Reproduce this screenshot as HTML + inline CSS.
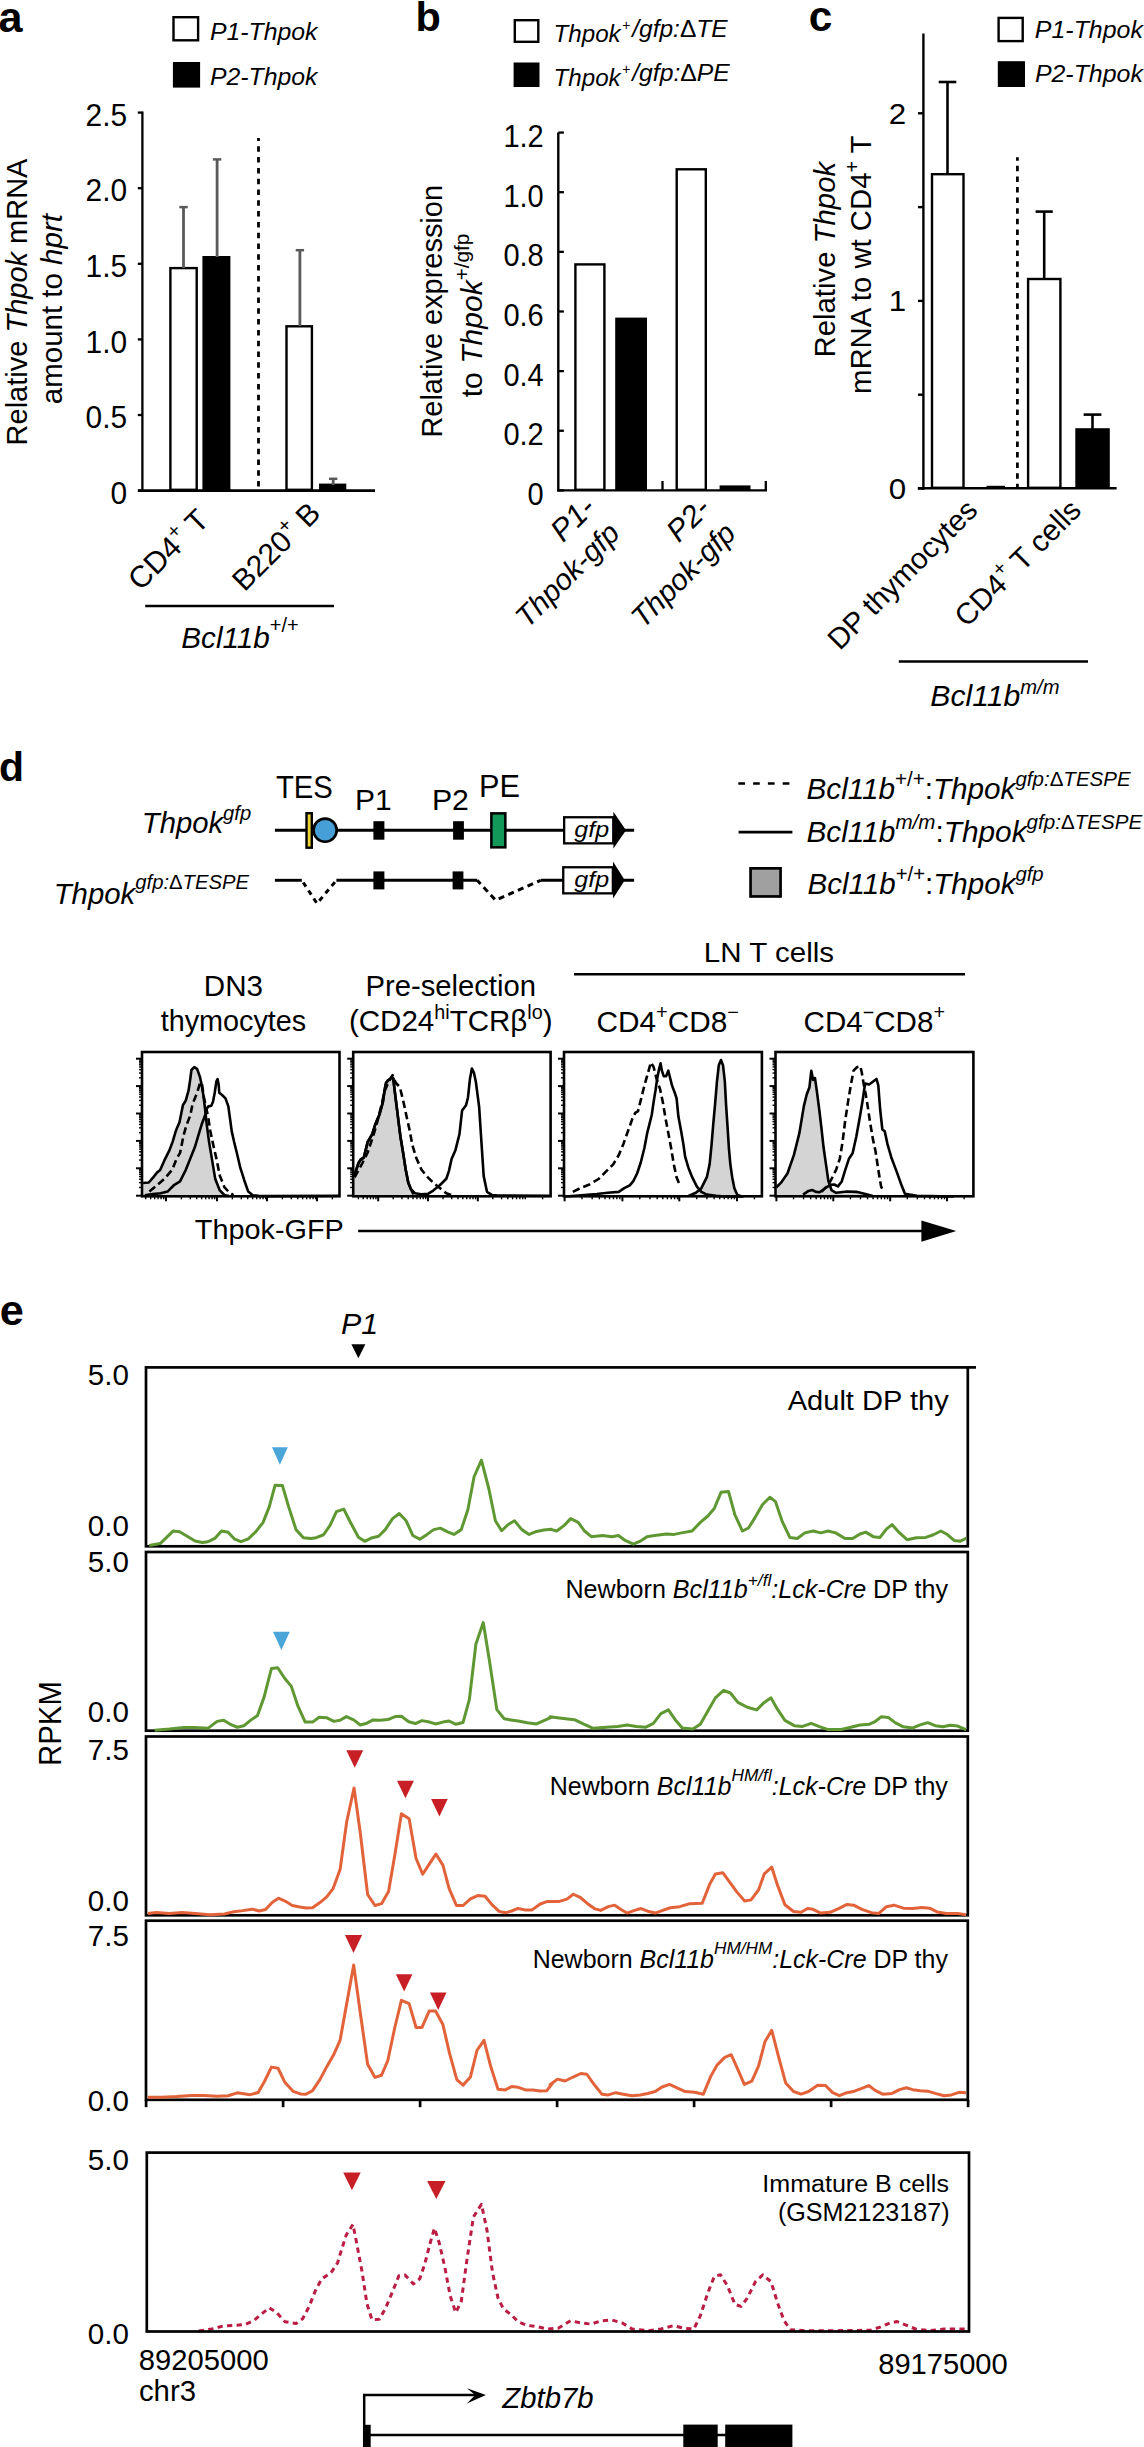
<!DOCTYPE html>
<html><head><meta charset="utf-8"><style>
html,body{margin:0;padding:0;background:#fff;}
svg{display:block;}
text{font-family:"Liberation Sans", sans-serif;}
</style></head><body>
<svg width="1144" height="2447" viewBox="0 0 1144 2447">
<rect width="1144" height="2447" fill="#fff"/>
<text id="a_lbl" x="0" y="0" transform="translate(-1.47 31.64)" font-size="43.16" font-weight="bold">a</text>
<rect x="173.5" y="17.2" width="24.6" height="23.1" fill="#fff" stroke="#000" stroke-width="2.4"/>
<rect x="172.9" y="62" width="27.2" height="25.6" fill="#000"/>
<text id="a_leg1" x="0" y="0" transform="translate(210.02 39.74) scale(1.0034 1)" font-size="24.71" font-style="italic">P1-Thpok</text>
<text id="a_leg2" x="0" y="0" transform="translate(210.02 84.52) scale(1.0034 1)" font-size="24.71" font-style="italic">P2-Thpok</text>
<line x1="142.4" y1="111.4" x2="142.4" y2="491.8" stroke="#000" stroke-width="2.3"/>
<line x1="137.8" y1="112.6" x2="142.4" y2="112.6" stroke="#000" stroke-width="2.3"/>
<text id="a_tk2.5" x="0" y="0" transform="translate(127.16 125.78) scale(0.9639 1)" font-size="31.02" text-anchor="end">2.5</text>
<line x1="137.8" y1="188.2" x2="142.4" y2="188.2" stroke="#000" stroke-width="2.3"/>
<text id="a_tk2.0" x="0" y="0" transform="translate(127.16 201.38) scale(0.9639 1)" font-size="31.02" text-anchor="end">2.0</text>
<line x1="137.8" y1="263.8" x2="142.4" y2="263.8" stroke="#000" stroke-width="2.3"/>
<text id="a_tk1.5" x="0" y="0" transform="translate(127.16 276.98) scale(0.9639 1)" font-size="31.02" text-anchor="end">1.5</text>
<line x1="137.8" y1="339.4" x2="142.4" y2="339.4" stroke="#000" stroke-width="2.3"/>
<text id="a_tk1.0" x="0" y="0" transform="translate(127.16 352.58) scale(0.9639 1)" font-size="31.02" text-anchor="end">1.0</text>
<line x1="137.8" y1="415" x2="142.4" y2="415" stroke="#000" stroke-width="2.3"/>
<text id="a_tk0.5" x="0" y="0" transform="translate(127.16 428.18) scale(0.9639 1)" font-size="31.02" text-anchor="end">0.5</text>
<line x1="137.8" y1="490.6" x2="142.4" y2="490.6" stroke="#000" stroke-width="2.3"/>
<text id="a_tk0" x="0" y="0" transform="translate(127.16 503.78) scale(0.9639 1)" font-size="31.02" text-anchor="end">0</text>
<line x1="138" y1="490.6" x2="375" y2="490.6" stroke="#000" stroke-width="2.9"/>
<rect x="170.4" y="268.1" width="26.3" height="221.7" fill="#fff" stroke="#000" stroke-width="2.4"/>
<rect x="202.4" y="256" width="28" height="235" fill="#000"/>
<rect x="286.5" y="326.3" width="25.4" height="163.5" fill="#fff" stroke="#000" stroke-width="2.4"/>
<rect x="319" y="483.6" width="27.3" height="7.4" fill="#000"/>
<line x1="183.5" y1="207.1" x2="183.5" y2="268" stroke="#5a5a5a" stroke-width="2.8"/>
<line x1="179.3" y1="207.1" x2="187.7" y2="207.1" stroke="#5a5a5a" stroke-width="2.5"/>
<line x1="217.1" y1="159.4" x2="217.1" y2="257" stroke="#5a5a5a" stroke-width="2.8"/>
<line x1="212.9" y1="159.4" x2="221.3" y2="159.4" stroke="#5a5a5a" stroke-width="2.5"/>
<line x1="299.9" y1="250.2" x2="299.9" y2="326" stroke="#5a5a5a" stroke-width="2.8"/>
<line x1="295.7" y1="250.2" x2="304.1" y2="250.2" stroke="#5a5a5a" stroke-width="2.5"/>
<line x1="333.2" y1="478.8" x2="333.2" y2="485" stroke="#5a5a5a" stroke-width="2.8"/>
<line x1="329" y1="478.8" x2="337.4" y2="478.8" stroke="#5a5a5a" stroke-width="2.5"/>
<line x1="258.5" y1="138.1" x2="258.5" y2="490" stroke="#000" stroke-width="2.8" stroke-dasharray="5.5 5.3" stroke-dashoffset="2.6"/>
<text id="a_yt1" x="0" y="0" transform="translate(26.77 301.97) rotate(-90)" font-size="29" text-anchor="middle">Relative <tspan font-style="italic">Thpok</tspan> mRNA</text>
<text id="a_yt2" x="0" y="0" transform="translate(61.88 309.15) rotate(-90)" font-size="29.51" text-anchor="middle">amount to <tspan font-style="italic">hprt</tspan></text>
<text id="a_cat1" x="0" y="0" transform="translate(210.55 521.88) rotate(-45)" font-size="30.33" text-anchor="end">CD4<tspan dy="-12.74" font-size="20.32">+</tspan><tspan dy="12.74"> T</tspan></text>
<text id="a_cat2" x="0" y="0" transform="translate(322.18 514.86) rotate(-45)" font-size="29.95" text-anchor="end">B220<tspan dy="-12.58" font-size="20.07">+</tspan><tspan dy="12.58"> B</tspan></text>
<line x1="145.2" y1="606" x2="334" y2="606" stroke="#000" stroke-width="2.5"/>
<text id="a_bcl" x="0" y="0" transform="translate(181.26 647.55)" font-size="29.68"><tspan font-style="italic">Bcl11b</tspan><tspan dy="-15.44" font-size="19.89">+/+</tspan></text>
<text id="b_lbl" x="0" y="0" transform="translate(415.59 31)" font-size="41.47" font-weight="bold">b</text>
<rect x="514.8" y="20.2" width="23.5" height="21.6" fill="#fff" stroke="#000" stroke-width="2.4"/>
<rect x="513.6" y="62.5" width="25.9" height="24.5" fill="#000"/>
<text id="b_leg1a" x="0" y="0" transform="translate(553.51 42.39) scale(0.9791 1)" font-size="24.7" font-style="italic">Thpok</text>
<text id="b_leg1b" x="0" y="0" transform="translate(621.95 30.37) scale(0.9089 1)" font-size="15.43" font-style="italic">+</text>
<text id="b_leg1c" x="0" y="0" transform="translate(632.24 37.43) scale(1.0653 1)" font-size="23.01" font-style="italic">/gfp:<tspan font-style="normal">Δ</tspan>TE</text>
<text id="b_leg2a" x="0" y="0" transform="translate(553.51 86.28) scale(0.9791 1)" font-size="24.7" font-style="italic">Thpok</text>
<text id="b_leg2b" x="0" y="0" transform="translate(621.95 74.37) scale(0.9089 1)" font-size="15.43" font-style="italic">+</text>
<text id="b_leg2c" x="0" y="0" transform="translate(632.23 81.34) scale(1.0725 1)" font-size="23.02" font-style="italic">/gfp:<tspan font-style="normal">Δ</tspan>PE</text>
<line x1="558.3" y1="132.4" x2="558.3" y2="491.6" stroke="#000" stroke-width="2.4"/>
<line x1="558.3" y1="132.56" x2="563.9" y2="132.56" stroke="#000" stroke-width="2.3"/>
<text id="b_tk1.2" x="0" y="0" transform="translate(543.72 147.16) scale(0.9356 1)" font-size="31.02" text-anchor="end">1.2</text>
<line x1="558.3" y1="192.2" x2="563.9" y2="192.2" stroke="#000" stroke-width="2.3"/>
<text id="b_tk1.0" x="0" y="0" transform="translate(543.72 206.8) scale(0.9356 1)" font-size="31.02" text-anchor="end">1.0</text>
<line x1="558.3" y1="251.84" x2="563.9" y2="251.84" stroke="#000" stroke-width="2.3"/>
<text id="b_tk0.8" x="0" y="0" transform="translate(543.72 266.44) scale(0.9356 1)" font-size="31.02" text-anchor="end">0.8</text>
<line x1="558.3" y1="311.48" x2="563.9" y2="311.48" stroke="#000" stroke-width="2.3"/>
<text id="b_tk0.6" x="0" y="0" transform="translate(543.72 326.08) scale(0.9356 1)" font-size="31.02" text-anchor="end">0.6</text>
<line x1="558.3" y1="371.12" x2="563.9" y2="371.12" stroke="#000" stroke-width="2.3"/>
<text id="b_tk0.4" x="0" y="0" transform="translate(543.72 385.72) scale(0.9356 1)" font-size="31.02" text-anchor="end">0.4</text>
<line x1="558.3" y1="430.76" x2="563.9" y2="430.76" stroke="#000" stroke-width="2.3"/>
<text id="b_tk0.2" x="0" y="0" transform="translate(543.72 445.36) scale(0.9356 1)" font-size="31.02" text-anchor="end">0.2</text>
<line x1="558.3" y1="490.4" x2="563.9" y2="490.4" stroke="#000" stroke-width="2.3"/>
<text id="b_tk0" x="0" y="0" transform="translate(543.72 505) scale(0.9356 1)" font-size="31.02" text-anchor="end">0</text>
<line x1="557.2" y1="490.4" x2="767" y2="490.4" stroke="#000" stroke-width="2.4"/>
<line x1="662.5" y1="481" x2="662.5" y2="490.4" stroke="#000" stroke-width="2.3"/>
<line x1="765.8" y1="481" x2="765.8" y2="490.4" stroke="#000" stroke-width="2.3"/>
<rect x="575.4" y="264.4" width="29" height="225.4" fill="#fff" stroke="#000" stroke-width="2.4"/>
<rect x="615.2" y="317.6" width="31.8" height="173.4" fill="#000"/>
<rect x="676.7" y="169.3" width="29.1" height="320.5" fill="#fff" stroke="#000" stroke-width="2.4"/>
<rect x="719.6" y="485.4" width="30.9" height="5.6" fill="#000"/>
<text id="b_yt1" x="0" y="0" transform="translate(441.77 311.28) rotate(-90)" font-size="28.95" text-anchor="middle">Relative expression</text>
<text id="b_yt2" x="0" y="0" transform="translate(482.36 315.45) rotate(-90)" font-size="30.06" text-anchor="middle">to <tspan font-style="italic">Thpok</tspan><tspan dy="-13.23" font-size="20.74">+/gfp</tspan></text>
<text id="b_cat1" x="0" y="0" transform="translate(596.89 509.42) rotate(-45)" font-size="30.85" text-anchor="end" font-style="italic">P1-</text>
<text id="b_cat2" x="0" y="0" transform="translate(621.41 534.99) rotate(-45)" font-size="29.51" text-anchor="end" font-style="italic">Thpok-gfp</text>
<text id="b_cat3" x="0" y="0" transform="translate(712 510.09) rotate(-45)" font-size="30.31" text-anchor="end" font-style="italic">P2-</text>
<text id="b_cat4" x="0" y="0" transform="translate(737.46 535.03) rotate(-45)" font-size="29.58" text-anchor="end" font-style="italic">Thpok-gfp</text>
<text id="c_lbl" x="0" y="0" transform="translate(808.67 31.47)" font-size="42.35" font-weight="bold">c</text>
<rect x="998.6" y="17.9" width="24.1" height="23.2" fill="#fff" stroke="#000" stroke-width="2.4"/>
<rect x="997.8" y="61.2" width="27.2" height="25.8" fill="#000"/>
<text id="c_leg1" x="0" y="0" transform="translate(1034.87 37.51) scale(1.0553 1)" font-size="23.62" font-style="italic">P1-Thpok</text>
<text id="c_leg2" x="0" y="0" transform="translate(1034.89 81.77) scale(1.0726 1)" font-size="23.24" font-style="italic">P2-Thpok</text>
<line x1="923.4" y1="33.5" x2="923.4" y2="489.7" stroke="#000" stroke-width="2.4"/>
<line x1="918" y1="113.3" x2="923.4" y2="113.3" stroke="#000" stroke-width="2.4"/>
<text id="c_tk2" x="0" y="0" transform="translate(906.17 123.61) scale(1.0404 1)" font-size="30.11" text-anchor="end">2</text>
<line x1="918" y1="207.1" x2="923.4" y2="207.1" stroke="#000" stroke-width="2.4"/>
<line x1="918" y1="300.9" x2="923.4" y2="300.9" stroke="#000" stroke-width="2.4"/>
<text id="c_tk1" x="0" y="0" transform="translate(906.17 311.21) scale(1.0404 1)" font-size="30.11" text-anchor="end">1</text>
<line x1="918" y1="394.7" x2="923.4" y2="394.7" stroke="#000" stroke-width="2.4"/>
<line x1="918" y1="488.5" x2="923.4" y2="488.5" stroke="#000" stroke-width="2.4"/>
<text id="c_tk0" x="0" y="0" transform="translate(906.17 498.81) scale(1.0404 1)" font-size="30.11" text-anchor="end">0</text>
<line x1="917.8" y1="488.2" x2="1116.6" y2="488.2" stroke="#000" stroke-width="2.4"/>
<rect x="932" y="174.2" width="31.5" height="313.6" fill="#fff" stroke="#000" stroke-width="2.4"/>
<rect x="986.5" y="485.8" width="18.5" height="3.2" fill="#000"/>
<rect x="1028.1" y="279" width="32.3" height="208.8" fill="#fff" stroke="#000" stroke-width="2.4"/>
<rect x="1075.3" y="428.2" width="34.5" height="60.8" fill="#000"/>
<line x1="947.5" y1="82" x2="947.5" y2="174" stroke="#000" stroke-width="2.6"/>
<line x1="938.7" y1="82" x2="956.3" y2="82" stroke="#000" stroke-width="2.6"/>
<line x1="1044.2" y1="211.6" x2="1044.2" y2="279" stroke="#000" stroke-width="2.6"/>
<line x1="1035.6" y1="211.6" x2="1052.8" y2="211.6" stroke="#000" stroke-width="2.6"/>
<line x1="1092.5" y1="414.6" x2="1092.5" y2="429" stroke="#000" stroke-width="2.6"/>
<line x1="1083.6" y1="414.6" x2="1101.4" y2="414.6" stroke="#000" stroke-width="2.6"/>
<line x1="1017.4" y1="157.2" x2="1017.4" y2="488" stroke="#000" stroke-width="2.75" stroke-dasharray="5.5 5.1" stroke-dashoffset="2"/>
<text id="c_yt1" x="0" y="0" transform="translate(835.36 259.69) rotate(-90)" font-size="29.33" text-anchor="middle">Relative <tspan font-style="italic">Thpok</tspan></text>
<text id="c_yt2" x="0" y="0" transform="translate(870.93 264.78) rotate(-90)" font-size="29.31" text-anchor="middle">mRNA to wt CD4<tspan dy="-12.31" font-size="19.64">+</tspan><tspan dy="12.31"> T</tspan></text>
<text id="c_cat1" x="0" y="0" transform="translate(979.18 511.96) rotate(-45)" font-size="29.4" text-anchor="end">DP thymocytes</text>
<text id="c_cat2" x="0" y="0" transform="translate(1082.88 512.08) rotate(-45)" font-size="29.76" text-anchor="end">CD4<tspan dy="-12.5" font-size="19.94">+</tspan><tspan dy="12.5"> T cells</tspan></text>
<line x1="898.8" y1="661.4" x2="1088" y2="661.4" stroke="#000" stroke-width="2.5"/>
<text id="c_bcl" x="0" y="0" transform="translate(930.29 706.23)" font-size="30.17" font-style="italic">Bcl11b<tspan dy="-12.67" font-size="20.21">m/m</tspan></text>
<text id="d_lbl" x="0" y="0" transform="translate(-0.99 780.99)" font-size="40.94" font-weight="bold">d</text>
<text id="d_TES" x="0" y="0" transform="translate(275.88 797.57) scale(0.9423 1)" font-size="31.06">TES</text>
<text id="d_P1" x="0" y="0" transform="translate(355.09 809.95)" font-size="29.98">P1</text>
<text id="d_P2" x="0" y="0" transform="translate(431.89 809.95) scale(1.0099 1)" font-size="29.98">P2</text>
<text id="d_PE" x="0" y="0" transform="translate(478.97 796.76) scale(1.0012 1)" font-size="30.69">PE</text>
<text id="d_thg" x="0" y="0" transform="translate(141.84 832.71)" font-size="29.24" font-style="italic">Thpok<tspan dy="-13.16" font-size="20.18">gfp</tspan></text>
<text id="d_thd" x="0" y="0" transform="translate(53.65 903.92)" font-size="29.37" font-style="italic">Thpok<tspan dy="-14.69" font-size="20.27">gfp:</tspan><tspan font-size="20.27" font-style="normal">Δ</tspan><tspan font-size="20.27">TESPE</tspan></text>
<line x1="274.9" y1="830.2" x2="634.1" y2="830.2" stroke="#000" stroke-width="2.9"/>
<rect x="306.5" y="813.2" width="5.3" height="34.5" fill="#efd334" stroke="#000" stroke-width="2.4"/>
<circle cx="325.1" cy="830.2" r="11.6" fill="#469fd6" stroke="#000" stroke-width="2.6"/>
<rect x="373.4" y="821.2" width="11" height="18.5" fill="#000"/>
<rect x="453.1" y="821.2" width="10.8" height="18.5" fill="#000"/>
<rect x="491.35" y="813.35" width="14" height="34" fill="#12995a" stroke="#000" stroke-width="2.5"/>
<rect x="564.15" y="817.25" width="49.1" height="26.1" fill="#fff" stroke="#000" stroke-width="2.3"/>
<path d="M613.4 811.7 L626 830.2 L613.4 848.5 Z" fill="#000"/>
<text id="d_gfp830" x="0" y="0" transform="translate(591.65 836.69) scale(1.1232 1)" font-size="22.32" text-anchor="middle" font-style="italic">gfp</text>
<line x1="274.9" y1="880.3" x2="301.8" y2="880.3" stroke="#000" stroke-width="2.9"/>
<path d="M301.8 880.3 L317 903.5 L336.4 880.3" fill="none" stroke="#000" stroke-width="3" stroke-dasharray="5 4.6" stroke-dashoffset="7"/>
<line x1="336.4" y1="880.3" x2="477.2" y2="880.3" stroke="#000" stroke-width="2.9"/>
<rect x="373.4" y="871.4" width="11" height="18" fill="#000"/>
<rect x="452.6" y="871.4" width="10.8" height="18" fill="#000"/>
<path d="M477.2 880.3 L495.6 900.2 L540.7 880.3" fill="none" stroke="#000" stroke-width="3" stroke-dasharray="6 4.5" stroke-dashoffset="1"/>
<line x1="540.7" y1="880.3" x2="634.1" y2="880.3" stroke="#000" stroke-width="2.9"/>
<rect x="563.25" y="867.25" width="49.6" height="26.1" fill="#fff" stroke="#000" stroke-width="2.3"/>
<path d="M613 861.5 L624.8 880.3 L613 898.6 Z" fill="#000"/>
<text id="d_gfp880" x="0" y="0" transform="translate(591.65 886.61) scale(1.1232 1)" font-size="22.32" text-anchor="middle" font-style="italic">gfp</text>
<line x1="738.3" y1="783.5" x2="790" y2="783.5" stroke="#000" stroke-width="2.7" stroke-dasharray="6.7 8.1"/>
<line x1="738.6" y1="832.1" x2="792.4" y2="832.1" stroke="#000" stroke-width="2.9"/>
<rect x="750.55" y="868.35" width="30" height="28.1" fill="#a0a0a0" stroke="#000" stroke-width="2.7"/>
<text id="d_leg1" x="0" y="0" transform="translate(806.48 799.21)" font-size="29.7"><tspan font-style="italic">Bcl11b</tspan><tspan dy="-13.37" font-size="20.5">+/+</tspan><tspan dy="13.37">:</tspan><tspan font-style="italic">Thpok</tspan><tspan dy="-13.37" font-size="20.5" font-style="italic">gfp:</tspan><tspan font-size="20.5">Δ</tspan><tspan font-size="20.5" font-style="italic">TESPE</tspan></text>
<text id="d_leg2" x="0" y="0" transform="translate(806.43 842.2)" font-size="29.82"><tspan font-style="italic">Bcl11b</tspan><tspan dy="-13.42" font-size="20.58" font-style="italic">m/m</tspan><tspan dy="13.42">:</tspan><tspan font-style="italic">Thpok</tspan><tspan dy="-13.42" font-size="20.58" font-style="italic">gfp:</tspan><tspan font-size="20.58">Δ</tspan><tspan font-size="20.58" font-style="italic">TESPE</tspan></text>
<text id="d_leg3" x="0" y="0" transform="translate(807.55 894.06)" font-size="29.54"><tspan font-style="italic">Bcl11b</tspan><tspan dy="-13.29" font-size="20.38">+/+</tspan><tspan dy="13.29">:</tspan><tspan font-style="italic">Thpok</tspan><tspan dy="-13.29" font-size="20.38" font-style="italic">gfp</tspan></text>
<text id="d_h1a" x="0" y="0" transform="translate(233.37 996.43) scale(0.9918 1)" font-size="29.82" text-anchor="middle">DN3</text>
<text id="d_h1b" x="0" y="0" transform="translate(233.45 1030.91)" font-size="28.8" text-anchor="middle">thymocytes</text>
<text id="d_h2a" x="0" y="0" transform="translate(450.71 995.61)" font-size="29.22" text-anchor="middle">Pre-selection</text>
<text id="d_h2b" x="0" y="0" transform="translate(450.73 1031.26)" font-size="29.53" text-anchor="middle">(CD24<tspan dy="-12.4" font-size="19.78">hi</tspan><tspan dy="12.4">TCRβ</tspan><tspan dy="-12.4" font-size="19.78">lo</tspan><tspan dy="12.4">)</tspan></text>
<line x1="574" y1="974.2" x2="965" y2="974.2" stroke="#000" stroke-width="2.4"/>
<text id="d_ln" x="0" y="0" transform="translate(703.82 962.11) scale(1.0665 1)" font-size="27.71">LN T cells</text>
<text id="d_h3" x="0" y="0" transform="translate(596.54 1031.64)" font-size="29.76">CD4<tspan dy="-12.5" font-size="19.94">+</tspan><tspan dy="12.5">CD8</tspan><tspan dy="-12.5" font-size="19.94">−</tspan></text>
<text id="d_h4" x="0" y="0" transform="translate(803.6 1031.63)" font-size="29.55">CD4<tspan dy="-12.41" font-size="19.8">−</tspan><tspan dy="12.41">CD8</tspan><tspan dy="-12.41" font-size="19.8">+</tspan></text>
<path d="M143.11 1196.3 L143.11 1183.07 L148.8 1182.5 L152.77 1177.95 L156.75 1172.84 L160.16 1170 L164.14 1160.91 L169.25 1150.68 L172.66 1141.59 L176.07 1130.23 L179.48 1122.27 L181.75 1110.91 L182.89 1105.23 L185.73 1100.68 L188.57 1090.45 L190.27 1079.09 L191.41 1070 L194.25 1067.16 L197.09 1068.86 L199.93 1076.82 L201.64 1084.77 L203.34 1095 L205.05 1108.64 L206.75 1124.55 L209.02 1141.59 L211.86 1158.64 L215.27 1179.09 L219.82 1190.45 L224.36 1195 L228.91 1195.91 L228.91 1196.3 Z" fill="#d4d4d4"/>
<path d="M143.11 1183.07 L148.8 1182.5 L152.77 1177.95 L156.75 1172.84 L160.16 1170 L164.14 1160.91 L169.25 1150.68 L172.66 1141.59 L176.07 1130.23 L179.48 1122.27 L181.75 1110.91 L182.89 1105.23 L185.73 1100.68 L188.57 1090.45 L190.27 1079.09 L191.41 1070 L194.25 1067.16 L197.09 1068.86 L199.93 1076.82 L201.64 1084.77 L203.34 1095 L205.05 1108.64 L206.75 1124.55 L209.02 1141.59 L211.86 1158.64 L215.27 1179.09 L219.82 1190.45 L224.36 1195 L228.91 1195.91" fill="none" stroke="#000" stroke-width="2.6" stroke-linejoin="round"/>
<path d="M144.82 1195.23 L152.77 1194.09 L160.73 1193.3 L167.55 1191.59 L174.36 1184.77 L180.05 1181.36 L185.73 1170 L190.27 1158.64 L194.82 1147.27 L198.23 1135.91 L201.64 1124.55 L205.05 1115.45 L206.75 1108.64 L208.45 1106.36 L211.3 1105.8 L213 1101.82 L214.7 1092.73 L216.41 1081.36 L217.55 1079.09 L218.68 1084.77 L219.25 1092.73 L222.09 1095 L225.5 1098.41 L228.34 1106.36 L230.05 1118.86 L231.75 1131.36 L234.02 1141.59 L236.86 1152.95 L240.27 1167.73 L244.25 1180.23 L248.23 1191.59 L252.77 1195.23 L258.45 1195.91 L268 1196.14 L339 1195.8" fill="none" stroke="#000" stroke-width="2.6" stroke-linejoin="round"/>
<path d="M149.36 1191.59 L156.18 1185.91 L164.14 1179.09 L172.09 1170 L176.64 1158.64 L180.05 1152.95 L183.45 1135.91 L186.3 1125.68 L190.27 1115.45 L192.55 1104.09 L197.09 1092.73 L199.93 1083.64 L201.64 1082.5 L203.91 1097.27 L206.18 1107.5 L208.45 1118.86 L210.16 1130.23 L213 1143.86 L216.41 1158.64 L219.82 1175.68 L224.36 1187.05 L228.91 1192.16 L233.45 1195" fill="none" stroke="#000" stroke-width="2.6" stroke-linejoin="round" stroke-dasharray="7.5 4"/>
<line x1="136" y1="1195.7" x2="142" y2="1195.7" stroke="#000" stroke-width="2"/>
<line x1="139" y1="1187.45" x2="142" y2="1187.45" stroke="#000" stroke-width="1.4"/>
<line x1="139" y1="1182.63" x2="142" y2="1182.63" stroke="#000" stroke-width="1.4"/>
<line x1="139" y1="1179.21" x2="142" y2="1179.21" stroke="#000" stroke-width="1.4"/>
<line x1="139" y1="1176.55" x2="142" y2="1176.55" stroke="#000" stroke-width="1.4"/>
<line x1="139" y1="1174.38" x2="142" y2="1174.38" stroke="#000" stroke-width="1.4"/>
<line x1="139" y1="1172.55" x2="142" y2="1172.55" stroke="#000" stroke-width="1.4"/>
<line x1="139" y1="1170.96" x2="142" y2="1170.96" stroke="#000" stroke-width="1.4"/>
<line x1="139" y1="1169.56" x2="142" y2="1169.56" stroke="#000" stroke-width="1.4"/>
<line x1="136" y1="1168.3" x2="142" y2="1168.3" stroke="#000" stroke-width="2"/>
<line x1="139" y1="1160.05" x2="142" y2="1160.05" stroke="#000" stroke-width="1.4"/>
<line x1="139" y1="1155.23" x2="142" y2="1155.23" stroke="#000" stroke-width="1.4"/>
<line x1="139" y1="1151.81" x2="142" y2="1151.81" stroke="#000" stroke-width="1.4"/>
<line x1="139" y1="1149.15" x2="142" y2="1149.15" stroke="#000" stroke-width="1.4"/>
<line x1="139" y1="1146.98" x2="142" y2="1146.98" stroke="#000" stroke-width="1.4"/>
<line x1="139" y1="1145.15" x2="142" y2="1145.15" stroke="#000" stroke-width="1.4"/>
<line x1="139" y1="1143.56" x2="142" y2="1143.56" stroke="#000" stroke-width="1.4"/>
<line x1="139" y1="1142.16" x2="142" y2="1142.16" stroke="#000" stroke-width="1.4"/>
<line x1="136" y1="1140.9" x2="142" y2="1140.9" stroke="#000" stroke-width="2"/>
<line x1="139" y1="1132.65" x2="142" y2="1132.65" stroke="#000" stroke-width="1.4"/>
<line x1="139" y1="1127.83" x2="142" y2="1127.83" stroke="#000" stroke-width="1.4"/>
<line x1="139" y1="1124.41" x2="142" y2="1124.41" stroke="#000" stroke-width="1.4"/>
<line x1="139" y1="1121.75" x2="142" y2="1121.75" stroke="#000" stroke-width="1.4"/>
<line x1="139" y1="1119.58" x2="142" y2="1119.58" stroke="#000" stroke-width="1.4"/>
<line x1="139" y1="1117.75" x2="142" y2="1117.75" stroke="#000" stroke-width="1.4"/>
<line x1="139" y1="1116.16" x2="142" y2="1116.16" stroke="#000" stroke-width="1.4"/>
<line x1="139" y1="1114.76" x2="142" y2="1114.76" stroke="#000" stroke-width="1.4"/>
<line x1="136" y1="1113.5" x2="142" y2="1113.5" stroke="#000" stroke-width="2"/>
<line x1="139" y1="1105.25" x2="142" y2="1105.25" stroke="#000" stroke-width="1.4"/>
<line x1="139" y1="1100.43" x2="142" y2="1100.43" stroke="#000" stroke-width="1.4"/>
<line x1="139" y1="1097.01" x2="142" y2="1097.01" stroke="#000" stroke-width="1.4"/>
<line x1="139" y1="1094.35" x2="142" y2="1094.35" stroke="#000" stroke-width="1.4"/>
<line x1="139" y1="1092.18" x2="142" y2="1092.18" stroke="#000" stroke-width="1.4"/>
<line x1="139" y1="1090.35" x2="142" y2="1090.35" stroke="#000" stroke-width="1.4"/>
<line x1="139" y1="1088.76" x2="142" y2="1088.76" stroke="#000" stroke-width="1.4"/>
<line x1="139" y1="1087.36" x2="142" y2="1087.36" stroke="#000" stroke-width="1.4"/>
<line x1="136" y1="1086.1" x2="142" y2="1086.1" stroke="#000" stroke-width="2"/>
<line x1="139" y1="1077.85" x2="142" y2="1077.85" stroke="#000" stroke-width="1.4"/>
<line x1="139" y1="1073.03" x2="142" y2="1073.03" stroke="#000" stroke-width="1.4"/>
<line x1="139" y1="1069.61" x2="142" y2="1069.61" stroke="#000" stroke-width="1.4"/>
<line x1="139" y1="1066.95" x2="142" y2="1066.95" stroke="#000" stroke-width="1.4"/>
<line x1="139" y1="1064.78" x2="142" y2="1064.78" stroke="#000" stroke-width="1.4"/>
<line x1="139" y1="1062.95" x2="142" y2="1062.95" stroke="#000" stroke-width="1.4"/>
<line x1="139" y1="1061.36" x2="142" y2="1061.36" stroke="#000" stroke-width="1.4"/>
<line x1="139" y1="1059.96" x2="142" y2="1059.96" stroke="#000" stroke-width="1.4"/>
<line x1="136" y1="1058.7" x2="142" y2="1058.7" stroke="#000" stroke-width="2"/>
<line x1="166" y1="1196.3" x2="166" y2="1201.3" stroke="#000" stroke-width="2"/>
<line x1="217" y1="1196.3" x2="217" y2="1201.3" stroke="#000" stroke-width="2"/>
<line x1="267" y1="1196.3" x2="267" y2="1201.3" stroke="#000" stroke-width="2"/>
<line x1="317" y1="1196.3" x2="317" y2="1201.3" stroke="#000" stroke-width="2"/>
<line x1="145.7" y1="1196.3" x2="145.7" y2="1199.3" stroke="#000" stroke-width="1.4"/>
<line x1="150.65" y1="1196.3" x2="150.65" y2="1199.3" stroke="#000" stroke-width="1.4"/>
<line x1="154.68" y1="1196.3" x2="154.68" y2="1199.3" stroke="#000" stroke-width="1.4"/>
<line x1="158.09" y1="1196.3" x2="158.09" y2="1199.3" stroke="#000" stroke-width="1.4"/>
<line x1="161.05" y1="1196.3" x2="161.05" y2="1199.3" stroke="#000" stroke-width="1.4"/>
<line x1="163.65" y1="1196.3" x2="163.65" y2="1199.3" stroke="#000" stroke-width="1.4"/>
<line x1="181.35" y1="1196.3" x2="181.35" y2="1199.3" stroke="#000" stroke-width="1.4"/>
<line x1="190.33" y1="1196.3" x2="190.33" y2="1199.3" stroke="#000" stroke-width="1.4"/>
<line x1="196.7" y1="1196.3" x2="196.7" y2="1199.3" stroke="#000" stroke-width="1.4"/>
<line x1="201.65" y1="1196.3" x2="201.65" y2="1199.3" stroke="#000" stroke-width="1.4"/>
<line x1="205.68" y1="1196.3" x2="205.68" y2="1199.3" stroke="#000" stroke-width="1.4"/>
<line x1="209.09" y1="1196.3" x2="209.09" y2="1199.3" stroke="#000" stroke-width="1.4"/>
<line x1="212.05" y1="1196.3" x2="212.05" y2="1199.3" stroke="#000" stroke-width="1.4"/>
<line x1="214.65" y1="1196.3" x2="214.65" y2="1199.3" stroke="#000" stroke-width="1.4"/>
<line x1="232.35" y1="1196.3" x2="232.35" y2="1199.3" stroke="#000" stroke-width="1.4"/>
<line x1="241.33" y1="1196.3" x2="241.33" y2="1199.3" stroke="#000" stroke-width="1.4"/>
<line x1="247.7" y1="1196.3" x2="247.7" y2="1199.3" stroke="#000" stroke-width="1.4"/>
<line x1="252.65" y1="1196.3" x2="252.65" y2="1199.3" stroke="#000" stroke-width="1.4"/>
<line x1="256.68" y1="1196.3" x2="256.68" y2="1199.3" stroke="#000" stroke-width="1.4"/>
<line x1="260.1" y1="1196.3" x2="260.1" y2="1199.3" stroke="#000" stroke-width="1.4"/>
<line x1="263.05" y1="1196.3" x2="263.05" y2="1199.3" stroke="#000" stroke-width="1.4"/>
<line x1="265.65" y1="1196.3" x2="265.65" y2="1199.3" stroke="#000" stroke-width="1.4"/>
<line x1="282.35" y1="1196.3" x2="282.35" y2="1199.3" stroke="#000" stroke-width="1.4"/>
<line x1="291.33" y1="1196.3" x2="291.33" y2="1199.3" stroke="#000" stroke-width="1.4"/>
<line x1="297.7" y1="1196.3" x2="297.7" y2="1199.3" stroke="#000" stroke-width="1.4"/>
<line x1="302.65" y1="1196.3" x2="302.65" y2="1199.3" stroke="#000" stroke-width="1.4"/>
<line x1="306.68" y1="1196.3" x2="306.68" y2="1199.3" stroke="#000" stroke-width="1.4"/>
<line x1="310.1" y1="1196.3" x2="310.1" y2="1199.3" stroke="#000" stroke-width="1.4"/>
<line x1="313.05" y1="1196.3" x2="313.05" y2="1199.3" stroke="#000" stroke-width="1.4"/>
<line x1="315.65" y1="1196.3" x2="315.65" y2="1199.3" stroke="#000" stroke-width="1.4"/>
<line x1="332.35" y1="1196.3" x2="332.35" y2="1199.3" stroke="#000" stroke-width="1.4"/>
<rect x="142" y="1052" width="197.5" height="144.3" fill="none" stroke="#000" stroke-width="2.6"/>
<path d="M353.9 1196.3 L353.9 1176.11 L355.87 1170.87 L358.49 1163 L361.11 1159.07 L363.73 1157.76 L365.7 1149.89 L367.67 1142.02 L372.26 1134.16 L375.53 1123.67 L379.47 1114.49 L382.74 1102.69 L384.71 1089.58 L386.02 1083.02 L387.99 1080.4 L389.96 1079.09 L391.92 1077.12 L393.23 1078.43 L395.2 1094.82 L397.17 1110.56 L399.13 1126.29 L400.45 1136.78 L403.07 1152.51 L405.69 1169.56 L408.31 1182.67 L410.93 1189.22 L413.56 1194.47 L413.56 1196.3 Z" fill="#d4d4d4"/>
<path d="M353.9 1176.11 L355.87 1170.87 L358.49 1163 L361.11 1159.07 L363.73 1157.76 L365.7 1149.89 L367.67 1142.02 L372.26 1134.16 L375.53 1123.67 L379.47 1114.49 L382.74 1102.69 L384.71 1089.58 L386.02 1083.02 L387.99 1080.4 L389.96 1079.09 L391.92 1077.12 L393.23 1078.43 L395.2 1094.82 L397.17 1110.56 L399.13 1126.29 L400.45 1136.78 L403.07 1152.51 L405.69 1169.56 L408.31 1182.67 L410.93 1189.22 L413.56 1194.47" fill="none" stroke="#000" stroke-width="2.6" stroke-linejoin="round"/>
<path d="M353.9 1176.11 L355.87 1170.87 L358.49 1163 L361.11 1159.07 L363.73 1157.76 L365.7 1149.89 L367.67 1142.02 L372.26 1134.16 L375.53 1123.67 L379.47 1114.49 L382.74 1102.69 L384.71 1089.58 L386.02 1083.02 L387.99 1080.4 L389.96 1079.09 L391.92 1077.12 L393.23 1078.43 L395.2 1094.82 L397.17 1110.56 L399.13 1126.29 L400.45 1136.78 L403.07 1152.51 L405.69 1169.56 L408.31 1182.67 L410.93 1189.22 L414.87 1193.16 L421.42 1194.21 L427.98 1193.81 L433.22 1190.54 L439.78 1185.29 L446.33 1178.74 L448.96 1170.87 L451.58 1159.07 L455.51 1149.89 L459.45 1134.16 L462.07 1110.56 L466 1105.31 L467.97 1097.45 L469.94 1079.09 L471.9 1068.6 L473.87 1072.53 L475.84 1081.71 L479.11 1106.62 L481.08 1136.78 L483.7 1176.11 L486.98 1191.85 L492.22 1195.12 L497.99 1195.52 L550 1195.8" fill="none" stroke="#000" stroke-width="2.6" stroke-linejoin="round"/>
<path d="M354.56 1177.42 L362.42 1163 L367.67 1152.51 L372.91 1136.78 L376.84 1123.67 L380.78 1107.93 L384.71 1090.89 L388.65 1081.71 L392.58 1075.16 L395.86 1083.02 L399.79 1086.96 L403.07 1100.07 L407 1118.42 L409.62 1130.22 L412.25 1144.65 L416.18 1157.76 L421.42 1169.56 L426.67 1176.11 L433.22 1182.67 L439.78 1187.91 L446.33 1193.16 L451.58 1195.12" fill="none" stroke="#000" stroke-width="2.6" stroke-linejoin="round" stroke-dasharray="7.5 4"/>
<line x1="347.2" y1="1195.7" x2="353.2" y2="1195.7" stroke="#000" stroke-width="2"/>
<line x1="350.2" y1="1187.45" x2="353.2" y2="1187.45" stroke="#000" stroke-width="1.4"/>
<line x1="350.2" y1="1182.63" x2="353.2" y2="1182.63" stroke="#000" stroke-width="1.4"/>
<line x1="350.2" y1="1179.21" x2="353.2" y2="1179.21" stroke="#000" stroke-width="1.4"/>
<line x1="350.2" y1="1176.55" x2="353.2" y2="1176.55" stroke="#000" stroke-width="1.4"/>
<line x1="350.2" y1="1174.38" x2="353.2" y2="1174.38" stroke="#000" stroke-width="1.4"/>
<line x1="350.2" y1="1172.55" x2="353.2" y2="1172.55" stroke="#000" stroke-width="1.4"/>
<line x1="350.2" y1="1170.96" x2="353.2" y2="1170.96" stroke="#000" stroke-width="1.4"/>
<line x1="350.2" y1="1169.56" x2="353.2" y2="1169.56" stroke="#000" stroke-width="1.4"/>
<line x1="347.2" y1="1168.3" x2="353.2" y2="1168.3" stroke="#000" stroke-width="2"/>
<line x1="350.2" y1="1160.05" x2="353.2" y2="1160.05" stroke="#000" stroke-width="1.4"/>
<line x1="350.2" y1="1155.23" x2="353.2" y2="1155.23" stroke="#000" stroke-width="1.4"/>
<line x1="350.2" y1="1151.81" x2="353.2" y2="1151.81" stroke="#000" stroke-width="1.4"/>
<line x1="350.2" y1="1149.15" x2="353.2" y2="1149.15" stroke="#000" stroke-width="1.4"/>
<line x1="350.2" y1="1146.98" x2="353.2" y2="1146.98" stroke="#000" stroke-width="1.4"/>
<line x1="350.2" y1="1145.15" x2="353.2" y2="1145.15" stroke="#000" stroke-width="1.4"/>
<line x1="350.2" y1="1143.56" x2="353.2" y2="1143.56" stroke="#000" stroke-width="1.4"/>
<line x1="350.2" y1="1142.16" x2="353.2" y2="1142.16" stroke="#000" stroke-width="1.4"/>
<line x1="347.2" y1="1140.9" x2="353.2" y2="1140.9" stroke="#000" stroke-width="2"/>
<line x1="350.2" y1="1132.65" x2="353.2" y2="1132.65" stroke="#000" stroke-width="1.4"/>
<line x1="350.2" y1="1127.83" x2="353.2" y2="1127.83" stroke="#000" stroke-width="1.4"/>
<line x1="350.2" y1="1124.41" x2="353.2" y2="1124.41" stroke="#000" stroke-width="1.4"/>
<line x1="350.2" y1="1121.75" x2="353.2" y2="1121.75" stroke="#000" stroke-width="1.4"/>
<line x1="350.2" y1="1119.58" x2="353.2" y2="1119.58" stroke="#000" stroke-width="1.4"/>
<line x1="350.2" y1="1117.75" x2="353.2" y2="1117.75" stroke="#000" stroke-width="1.4"/>
<line x1="350.2" y1="1116.16" x2="353.2" y2="1116.16" stroke="#000" stroke-width="1.4"/>
<line x1="350.2" y1="1114.76" x2="353.2" y2="1114.76" stroke="#000" stroke-width="1.4"/>
<line x1="347.2" y1="1113.5" x2="353.2" y2="1113.5" stroke="#000" stroke-width="2"/>
<line x1="350.2" y1="1105.25" x2="353.2" y2="1105.25" stroke="#000" stroke-width="1.4"/>
<line x1="350.2" y1="1100.43" x2="353.2" y2="1100.43" stroke="#000" stroke-width="1.4"/>
<line x1="350.2" y1="1097.01" x2="353.2" y2="1097.01" stroke="#000" stroke-width="1.4"/>
<line x1="350.2" y1="1094.35" x2="353.2" y2="1094.35" stroke="#000" stroke-width="1.4"/>
<line x1="350.2" y1="1092.18" x2="353.2" y2="1092.18" stroke="#000" stroke-width="1.4"/>
<line x1="350.2" y1="1090.35" x2="353.2" y2="1090.35" stroke="#000" stroke-width="1.4"/>
<line x1="350.2" y1="1088.76" x2="353.2" y2="1088.76" stroke="#000" stroke-width="1.4"/>
<line x1="350.2" y1="1087.36" x2="353.2" y2="1087.36" stroke="#000" stroke-width="1.4"/>
<line x1="347.2" y1="1086.1" x2="353.2" y2="1086.1" stroke="#000" stroke-width="2"/>
<line x1="350.2" y1="1077.85" x2="353.2" y2="1077.85" stroke="#000" stroke-width="1.4"/>
<line x1="350.2" y1="1073.03" x2="353.2" y2="1073.03" stroke="#000" stroke-width="1.4"/>
<line x1="350.2" y1="1069.61" x2="353.2" y2="1069.61" stroke="#000" stroke-width="1.4"/>
<line x1="350.2" y1="1066.95" x2="353.2" y2="1066.95" stroke="#000" stroke-width="1.4"/>
<line x1="350.2" y1="1064.78" x2="353.2" y2="1064.78" stroke="#000" stroke-width="1.4"/>
<line x1="350.2" y1="1062.95" x2="353.2" y2="1062.95" stroke="#000" stroke-width="1.4"/>
<line x1="350.2" y1="1061.36" x2="353.2" y2="1061.36" stroke="#000" stroke-width="1.4"/>
<line x1="350.2" y1="1059.96" x2="353.2" y2="1059.96" stroke="#000" stroke-width="1.4"/>
<line x1="347.2" y1="1058.7" x2="353.2" y2="1058.7" stroke="#000" stroke-width="2"/>
<line x1="378.2" y1="1196.3" x2="378.2" y2="1201.3" stroke="#000" stroke-width="2"/>
<line x1="428" y1="1196.3" x2="428" y2="1201.3" stroke="#000" stroke-width="2"/>
<line x1="477.8" y1="1196.3" x2="477.8" y2="1201.3" stroke="#000" stroke-width="2"/>
<line x1="358.38" y1="1196.3" x2="358.38" y2="1199.3" stroke="#000" stroke-width="1.4"/>
<line x1="363.21" y1="1196.3" x2="363.21" y2="1199.3" stroke="#000" stroke-width="1.4"/>
<line x1="367.14" y1="1196.3" x2="367.14" y2="1199.3" stroke="#000" stroke-width="1.4"/>
<line x1="370.48" y1="1196.3" x2="370.48" y2="1199.3" stroke="#000" stroke-width="1.4"/>
<line x1="373.37" y1="1196.3" x2="373.37" y2="1199.3" stroke="#000" stroke-width="1.4"/>
<line x1="375.91" y1="1196.3" x2="375.91" y2="1199.3" stroke="#000" stroke-width="1.4"/>
<line x1="393.19" y1="1196.3" x2="393.19" y2="1199.3" stroke="#000" stroke-width="1.4"/>
<line x1="401.95" y1="1196.3" x2="401.95" y2="1199.3" stroke="#000" stroke-width="1.4"/>
<line x1="408.18" y1="1196.3" x2="408.18" y2="1199.3" stroke="#000" stroke-width="1.4"/>
<line x1="413.01" y1="1196.3" x2="413.01" y2="1199.3" stroke="#000" stroke-width="1.4"/>
<line x1="416.94" y1="1196.3" x2="416.94" y2="1199.3" stroke="#000" stroke-width="1.4"/>
<line x1="420.28" y1="1196.3" x2="420.28" y2="1199.3" stroke="#000" stroke-width="1.4"/>
<line x1="423.17" y1="1196.3" x2="423.17" y2="1199.3" stroke="#000" stroke-width="1.4"/>
<line x1="425.71" y1="1196.3" x2="425.71" y2="1199.3" stroke="#000" stroke-width="1.4"/>
<line x1="442.99" y1="1196.3" x2="442.99" y2="1199.3" stroke="#000" stroke-width="1.4"/>
<line x1="451.75" y1="1196.3" x2="451.75" y2="1199.3" stroke="#000" stroke-width="1.4"/>
<line x1="457.98" y1="1196.3" x2="457.98" y2="1199.3" stroke="#000" stroke-width="1.4"/>
<line x1="462.81" y1="1196.3" x2="462.81" y2="1199.3" stroke="#000" stroke-width="1.4"/>
<line x1="466.74" y1="1196.3" x2="466.74" y2="1199.3" stroke="#000" stroke-width="1.4"/>
<line x1="470.08" y1="1196.3" x2="470.08" y2="1199.3" stroke="#000" stroke-width="1.4"/>
<line x1="472.97" y1="1196.3" x2="472.97" y2="1199.3" stroke="#000" stroke-width="1.4"/>
<line x1="475.51" y1="1196.3" x2="475.51" y2="1199.3" stroke="#000" stroke-width="1.4"/>
<line x1="492.79" y1="1196.3" x2="492.79" y2="1199.3" stroke="#000" stroke-width="1.4"/>
<line x1="501.55" y1="1196.3" x2="501.55" y2="1199.3" stroke="#000" stroke-width="1.4"/>
<line x1="507.78" y1="1196.3" x2="507.78" y2="1199.3" stroke="#000" stroke-width="1.4"/>
<line x1="512.61" y1="1196.3" x2="512.61" y2="1199.3" stroke="#000" stroke-width="1.4"/>
<line x1="516.54" y1="1196.3" x2="516.54" y2="1199.3" stroke="#000" stroke-width="1.4"/>
<line x1="519.88" y1="1196.3" x2="519.88" y2="1199.3" stroke="#000" stroke-width="1.4"/>
<line x1="522.77" y1="1196.3" x2="522.77" y2="1199.3" stroke="#000" stroke-width="1.4"/>
<line x1="525.31" y1="1196.3" x2="525.31" y2="1199.3" stroke="#000" stroke-width="1.4"/>
<line x1="542.59" y1="1196.3" x2="542.59" y2="1199.3" stroke="#000" stroke-width="1.4"/>
<rect x="353.2" y="1052" width="197.4" height="144.3" fill="none" stroke="#000" stroke-width="2.6"/>
<path d="M688.5 1196.3 L688.5 1195.89 L695.84 1192.77 L701.35 1188.18 L706.85 1177.17 L709.61 1164.32 L711.44 1145.96 L713.28 1123.93 L715.11 1103.74 L716.95 1081.71 L718.79 1065.19 L720.99 1060.05 L723.01 1065.19 L724.84 1081.71 L726.13 1105.58 L727.6 1127.61 L728.88 1147.8 L730.35 1164.32 L732.19 1177.17 L734.39 1188.18 L737.14 1194.61 L741.73 1196.44 L741.73 1196.3 Z" fill="#d4d4d4"/>
<path d="M688.5 1195.89 L695.84 1192.77 L701.35 1188.18 L706.85 1177.17 L709.61 1164.32 L711.44 1145.96 L713.28 1123.93 L715.11 1103.74 L716.95 1081.71 L718.79 1065.19 L720.99 1060.05 L723.01 1065.19 L724.84 1081.71 L726.13 1105.58 L727.6 1127.61 L728.88 1147.8 L730.35 1164.32 L732.19 1177.17 L734.39 1188.18 L737.14 1194.61 L741.73 1196.44" fill="none" stroke="#000" stroke-width="2.6" stroke-linejoin="round"/>
<path d="M565.51 1196.44 L578.36 1195.53 L596.71 1194.06 L607.73 1192.77 L618.74 1191.85 L624.25 1188.18 L629.76 1185.43 L633.43 1180.84 L637.1 1173.5 L640.77 1162.48 L644.44 1147.8 L647.19 1133.11 L649.95 1122.1 L651.78 1114.76 L653.62 1101.91 L655.45 1090.89 L657.29 1078.04 L659.13 1068.86 L660.59 1063.36 L661.88 1070.7 L663.72 1076.21 L666.1 1076.21 L668.3 1070.7 L670.14 1078.04 L671.98 1085.38 L674.73 1092.73 L676.57 1098.23 L678.4 1116.59 L681.15 1131.28 L683.36 1144.13 L685.19 1156.98 L688.5 1167.99 L692.17 1177.17 L696.76 1186.35 L701.35 1191.85 L706.85 1194.61 L716.03 1195.89 L725.21 1196.44 L743.57 1196.44" fill="none" stroke="#000" stroke-width="2.6" stroke-linejoin="round"/>
<path d="M572.85 1191.85 L580.19 1188.18 L589.37 1184.51 L598.55 1179 L605.89 1171.66 L613.23 1164.32 L618.74 1155.14 L623.33 1144.13 L627.92 1131.28 L632.51 1118.43 L635.26 1112.92 L638.02 1111.08 L640.77 1100.07 L644.44 1085.38 L648.11 1072.54 L650.87 1062.44 L653.62 1067.03 L656.37 1078.04 L660.04 1089.06 L662.8 1101.91 L665.55 1118.43 L668.3 1133.11 L671.06 1147.8 L673.81 1164.32 L676.57 1177.17 L680.24 1186.35" fill="none" stroke="#000" stroke-width="2.6" stroke-linejoin="round" stroke-dasharray="7.5 4"/>
<line x1="558" y1="1195.7" x2="564" y2="1195.7" stroke="#000" stroke-width="2"/>
<line x1="561" y1="1187.45" x2="564" y2="1187.45" stroke="#000" stroke-width="1.4"/>
<line x1="561" y1="1182.63" x2="564" y2="1182.63" stroke="#000" stroke-width="1.4"/>
<line x1="561" y1="1179.21" x2="564" y2="1179.21" stroke="#000" stroke-width="1.4"/>
<line x1="561" y1="1176.55" x2="564" y2="1176.55" stroke="#000" stroke-width="1.4"/>
<line x1="561" y1="1174.38" x2="564" y2="1174.38" stroke="#000" stroke-width="1.4"/>
<line x1="561" y1="1172.55" x2="564" y2="1172.55" stroke="#000" stroke-width="1.4"/>
<line x1="561" y1="1170.96" x2="564" y2="1170.96" stroke="#000" stroke-width="1.4"/>
<line x1="561" y1="1169.56" x2="564" y2="1169.56" stroke="#000" stroke-width="1.4"/>
<line x1="558" y1="1168.3" x2="564" y2="1168.3" stroke="#000" stroke-width="2"/>
<line x1="561" y1="1160.05" x2="564" y2="1160.05" stroke="#000" stroke-width="1.4"/>
<line x1="561" y1="1155.23" x2="564" y2="1155.23" stroke="#000" stroke-width="1.4"/>
<line x1="561" y1="1151.81" x2="564" y2="1151.81" stroke="#000" stroke-width="1.4"/>
<line x1="561" y1="1149.15" x2="564" y2="1149.15" stroke="#000" stroke-width="1.4"/>
<line x1="561" y1="1146.98" x2="564" y2="1146.98" stroke="#000" stroke-width="1.4"/>
<line x1="561" y1="1145.15" x2="564" y2="1145.15" stroke="#000" stroke-width="1.4"/>
<line x1="561" y1="1143.56" x2="564" y2="1143.56" stroke="#000" stroke-width="1.4"/>
<line x1="561" y1="1142.16" x2="564" y2="1142.16" stroke="#000" stroke-width="1.4"/>
<line x1="558" y1="1140.9" x2="564" y2="1140.9" stroke="#000" stroke-width="2"/>
<line x1="561" y1="1132.65" x2="564" y2="1132.65" stroke="#000" stroke-width="1.4"/>
<line x1="561" y1="1127.83" x2="564" y2="1127.83" stroke="#000" stroke-width="1.4"/>
<line x1="561" y1="1124.41" x2="564" y2="1124.41" stroke="#000" stroke-width="1.4"/>
<line x1="561" y1="1121.75" x2="564" y2="1121.75" stroke="#000" stroke-width="1.4"/>
<line x1="561" y1="1119.58" x2="564" y2="1119.58" stroke="#000" stroke-width="1.4"/>
<line x1="561" y1="1117.75" x2="564" y2="1117.75" stroke="#000" stroke-width="1.4"/>
<line x1="561" y1="1116.16" x2="564" y2="1116.16" stroke="#000" stroke-width="1.4"/>
<line x1="561" y1="1114.76" x2="564" y2="1114.76" stroke="#000" stroke-width="1.4"/>
<line x1="558" y1="1113.5" x2="564" y2="1113.5" stroke="#000" stroke-width="2"/>
<line x1="561" y1="1105.25" x2="564" y2="1105.25" stroke="#000" stroke-width="1.4"/>
<line x1="561" y1="1100.43" x2="564" y2="1100.43" stroke="#000" stroke-width="1.4"/>
<line x1="561" y1="1097.01" x2="564" y2="1097.01" stroke="#000" stroke-width="1.4"/>
<line x1="561" y1="1094.35" x2="564" y2="1094.35" stroke="#000" stroke-width="1.4"/>
<line x1="561" y1="1092.18" x2="564" y2="1092.18" stroke="#000" stroke-width="1.4"/>
<line x1="561" y1="1090.35" x2="564" y2="1090.35" stroke="#000" stroke-width="1.4"/>
<line x1="561" y1="1088.76" x2="564" y2="1088.76" stroke="#000" stroke-width="1.4"/>
<line x1="561" y1="1087.36" x2="564" y2="1087.36" stroke="#000" stroke-width="1.4"/>
<line x1="558" y1="1086.1" x2="564" y2="1086.1" stroke="#000" stroke-width="2"/>
<line x1="561" y1="1077.85" x2="564" y2="1077.85" stroke="#000" stroke-width="1.4"/>
<line x1="561" y1="1073.03" x2="564" y2="1073.03" stroke="#000" stroke-width="1.4"/>
<line x1="561" y1="1069.61" x2="564" y2="1069.61" stroke="#000" stroke-width="1.4"/>
<line x1="561" y1="1066.95" x2="564" y2="1066.95" stroke="#000" stroke-width="1.4"/>
<line x1="561" y1="1064.78" x2="564" y2="1064.78" stroke="#000" stroke-width="1.4"/>
<line x1="561" y1="1062.95" x2="564" y2="1062.95" stroke="#000" stroke-width="1.4"/>
<line x1="561" y1="1061.36" x2="564" y2="1061.36" stroke="#000" stroke-width="1.4"/>
<line x1="561" y1="1059.96" x2="564" y2="1059.96" stroke="#000" stroke-width="1.4"/>
<line x1="558" y1="1058.7" x2="564" y2="1058.7" stroke="#000" stroke-width="2"/>
<line x1="564.6" y1="1196.3" x2="564.6" y2="1201.3" stroke="#000" stroke-width="2"/>
<line x1="622.4" y1="1196.3" x2="622.4" y2="1201.3" stroke="#000" stroke-width="2"/>
<line x1="679.3" y1="1196.3" x2="679.3" y2="1201.3" stroke="#000" stroke-width="2"/>
<line x1="737" y1="1196.3" x2="737" y2="1201.3" stroke="#000" stroke-width="2"/>
<line x1="582" y1="1196.3" x2="582" y2="1199.3" stroke="#000" stroke-width="1.4"/>
<line x1="592.17" y1="1196.3" x2="592.17" y2="1199.3" stroke="#000" stroke-width="1.4"/>
<line x1="599.4" y1="1196.3" x2="599.4" y2="1199.3" stroke="#000" stroke-width="1.4"/>
<line x1="605" y1="1196.3" x2="605" y2="1199.3" stroke="#000" stroke-width="1.4"/>
<line x1="609.57" y1="1196.3" x2="609.57" y2="1199.3" stroke="#000" stroke-width="1.4"/>
<line x1="613.44" y1="1196.3" x2="613.44" y2="1199.3" stroke="#000" stroke-width="1.4"/>
<line x1="616.79" y1="1196.3" x2="616.79" y2="1199.3" stroke="#000" stroke-width="1.4"/>
<line x1="619.74" y1="1196.3" x2="619.74" y2="1199.3" stroke="#000" stroke-width="1.4"/>
<line x1="639.8" y1="1196.3" x2="639.8" y2="1199.3" stroke="#000" stroke-width="1.4"/>
<line x1="649.97" y1="1196.3" x2="649.97" y2="1199.3" stroke="#000" stroke-width="1.4"/>
<line x1="657.2" y1="1196.3" x2="657.2" y2="1199.3" stroke="#000" stroke-width="1.4"/>
<line x1="662.8" y1="1196.3" x2="662.8" y2="1199.3" stroke="#000" stroke-width="1.4"/>
<line x1="667.37" y1="1196.3" x2="667.37" y2="1199.3" stroke="#000" stroke-width="1.4"/>
<line x1="671.24" y1="1196.3" x2="671.24" y2="1199.3" stroke="#000" stroke-width="1.4"/>
<line x1="674.59" y1="1196.3" x2="674.59" y2="1199.3" stroke="#000" stroke-width="1.4"/>
<line x1="677.54" y1="1196.3" x2="677.54" y2="1199.3" stroke="#000" stroke-width="1.4"/>
<line x1="696.7" y1="1196.3" x2="696.7" y2="1199.3" stroke="#000" stroke-width="1.4"/>
<line x1="706.87" y1="1196.3" x2="706.87" y2="1199.3" stroke="#000" stroke-width="1.4"/>
<line x1="714.1" y1="1196.3" x2="714.1" y2="1199.3" stroke="#000" stroke-width="1.4"/>
<line x1="719.7" y1="1196.3" x2="719.7" y2="1199.3" stroke="#000" stroke-width="1.4"/>
<line x1="724.27" y1="1196.3" x2="724.27" y2="1199.3" stroke="#000" stroke-width="1.4"/>
<line x1="728.14" y1="1196.3" x2="728.14" y2="1199.3" stroke="#000" stroke-width="1.4"/>
<line x1="731.49" y1="1196.3" x2="731.49" y2="1199.3" stroke="#000" stroke-width="1.4"/>
<line x1="734.44" y1="1196.3" x2="734.44" y2="1199.3" stroke="#000" stroke-width="1.4"/>
<line x1="754.4" y1="1196.3" x2="754.4" y2="1199.3" stroke="#000" stroke-width="1.4"/>
<rect x="564" y="1052" width="197.9" height="144.3" fill="none" stroke="#000" stroke-width="2.6"/>
<path d="M776.42 1196.3 L776.42 1187.26 L781.01 1182.68 L787.44 1173.5 L793.86 1155.14 L799.37 1133.11 L803.96 1105.58 L806.71 1094.56 L809.47 1087.22 L811.3 1070.7 L813.14 1079.88 L814.97 1078.04 L816.81 1090.89 L819.2 1109.25 L821.4 1127.61 L823.6 1147.8 L825.99 1164.32 L828.37 1180.84 L831.49 1190.02 L836.08 1192.77 L847.1 1191.49 L856.28 1191.85 L865.45 1194.06 L872.8 1195.89 L872.8 1196.3 Z" fill="#d4d4d4"/>
<path d="M776.42 1187.26 L781.01 1182.68 L787.44 1173.5 L793.86 1155.14 L799.37 1133.11 L803.96 1105.58 L806.71 1094.56 L809.47 1087.22 L811.3 1070.7 L813.14 1079.88 L814.97 1078.04 L816.81 1090.89 L819.2 1109.25 L821.4 1127.61 L823.6 1147.8 L825.99 1164.32 L828.37 1180.84 L831.49 1190.02 L836.08 1192.77 L847.1 1191.49 L856.28 1191.85 L865.45 1194.06 L872.8 1195.89" fill="none" stroke="#000" stroke-width="2.6" stroke-linejoin="round"/>
<path d="M803.04 1194.61 L808.55 1190.94 L812.22 1190.02 L815.89 1191.85 L819.56 1192.22 L825.07 1188.18 L830.58 1184.88 L834.25 1184.51 L837.92 1186.35 L841.59 1181.76 L845.26 1169.83 L848.93 1158.81 L852.61 1153.3 L856.28 1136.78 L859.95 1116.59 L862.7 1100.07 L864.54 1087.22 L865.45 1083.55 L869.13 1084.47 L872.8 1081.71 L876.47 1078.96 L878.3 1085.38 L880.14 1109.25 L882.34 1129.44 L884.73 1131.28 L887.48 1144.13 L891.15 1156.98 L896.66 1171.66 L901.25 1184.51 L904.92 1193.69 L909.51 1194.61 L916.85 1195.89 L953.57 1196.44" fill="none" stroke="#000" stroke-width="2.6" stroke-linejoin="round"/>
<path d="M821.4 1191.85 L826.91 1186.35 L830.58 1180.84 L836.08 1169.83 L839.76 1158.81 L842.51 1142.29 L845.26 1120.26 L848.02 1101.91 L850.77 1085.38 L853.52 1070.7 L857.19 1067.03 L860.32 1066.11 L861.78 1072.54 L863.62 1083.55 L865.45 1092.73 L867.29 1103.74 L870.04 1122.1 L872.8 1138.62 L875.55 1151.47 L878.3 1169.83 L881.06 1186.35 L882.89 1190.02" fill="none" stroke="#000" stroke-width="2.6" stroke-linejoin="round" stroke-dasharray="7.5 4"/>
<line x1="769.5" y1="1195.7" x2="775.5" y2="1195.7" stroke="#000" stroke-width="2"/>
<line x1="772.5" y1="1187.45" x2="775.5" y2="1187.45" stroke="#000" stroke-width="1.4"/>
<line x1="772.5" y1="1182.63" x2="775.5" y2="1182.63" stroke="#000" stroke-width="1.4"/>
<line x1="772.5" y1="1179.21" x2="775.5" y2="1179.21" stroke="#000" stroke-width="1.4"/>
<line x1="772.5" y1="1176.55" x2="775.5" y2="1176.55" stroke="#000" stroke-width="1.4"/>
<line x1="772.5" y1="1174.38" x2="775.5" y2="1174.38" stroke="#000" stroke-width="1.4"/>
<line x1="772.5" y1="1172.55" x2="775.5" y2="1172.55" stroke="#000" stroke-width="1.4"/>
<line x1="772.5" y1="1170.96" x2="775.5" y2="1170.96" stroke="#000" stroke-width="1.4"/>
<line x1="772.5" y1="1169.56" x2="775.5" y2="1169.56" stroke="#000" stroke-width="1.4"/>
<line x1="769.5" y1="1168.3" x2="775.5" y2="1168.3" stroke="#000" stroke-width="2"/>
<line x1="772.5" y1="1160.05" x2="775.5" y2="1160.05" stroke="#000" stroke-width="1.4"/>
<line x1="772.5" y1="1155.23" x2="775.5" y2="1155.23" stroke="#000" stroke-width="1.4"/>
<line x1="772.5" y1="1151.81" x2="775.5" y2="1151.81" stroke="#000" stroke-width="1.4"/>
<line x1="772.5" y1="1149.15" x2="775.5" y2="1149.15" stroke="#000" stroke-width="1.4"/>
<line x1="772.5" y1="1146.98" x2="775.5" y2="1146.98" stroke="#000" stroke-width="1.4"/>
<line x1="772.5" y1="1145.15" x2="775.5" y2="1145.15" stroke="#000" stroke-width="1.4"/>
<line x1="772.5" y1="1143.56" x2="775.5" y2="1143.56" stroke="#000" stroke-width="1.4"/>
<line x1="772.5" y1="1142.16" x2="775.5" y2="1142.16" stroke="#000" stroke-width="1.4"/>
<line x1="769.5" y1="1140.9" x2="775.5" y2="1140.9" stroke="#000" stroke-width="2"/>
<line x1="772.5" y1="1132.65" x2="775.5" y2="1132.65" stroke="#000" stroke-width="1.4"/>
<line x1="772.5" y1="1127.83" x2="775.5" y2="1127.83" stroke="#000" stroke-width="1.4"/>
<line x1="772.5" y1="1124.41" x2="775.5" y2="1124.41" stroke="#000" stroke-width="1.4"/>
<line x1="772.5" y1="1121.75" x2="775.5" y2="1121.75" stroke="#000" stroke-width="1.4"/>
<line x1="772.5" y1="1119.58" x2="775.5" y2="1119.58" stroke="#000" stroke-width="1.4"/>
<line x1="772.5" y1="1117.75" x2="775.5" y2="1117.75" stroke="#000" stroke-width="1.4"/>
<line x1="772.5" y1="1116.16" x2="775.5" y2="1116.16" stroke="#000" stroke-width="1.4"/>
<line x1="772.5" y1="1114.76" x2="775.5" y2="1114.76" stroke="#000" stroke-width="1.4"/>
<line x1="769.5" y1="1113.5" x2="775.5" y2="1113.5" stroke="#000" stroke-width="2"/>
<line x1="772.5" y1="1105.25" x2="775.5" y2="1105.25" stroke="#000" stroke-width="1.4"/>
<line x1="772.5" y1="1100.43" x2="775.5" y2="1100.43" stroke="#000" stroke-width="1.4"/>
<line x1="772.5" y1="1097.01" x2="775.5" y2="1097.01" stroke="#000" stroke-width="1.4"/>
<line x1="772.5" y1="1094.35" x2="775.5" y2="1094.35" stroke="#000" stroke-width="1.4"/>
<line x1="772.5" y1="1092.18" x2="775.5" y2="1092.18" stroke="#000" stroke-width="1.4"/>
<line x1="772.5" y1="1090.35" x2="775.5" y2="1090.35" stroke="#000" stroke-width="1.4"/>
<line x1="772.5" y1="1088.76" x2="775.5" y2="1088.76" stroke="#000" stroke-width="1.4"/>
<line x1="772.5" y1="1087.36" x2="775.5" y2="1087.36" stroke="#000" stroke-width="1.4"/>
<line x1="769.5" y1="1086.1" x2="775.5" y2="1086.1" stroke="#000" stroke-width="2"/>
<line x1="772.5" y1="1077.85" x2="775.5" y2="1077.85" stroke="#000" stroke-width="1.4"/>
<line x1="772.5" y1="1073.03" x2="775.5" y2="1073.03" stroke="#000" stroke-width="1.4"/>
<line x1="772.5" y1="1069.61" x2="775.5" y2="1069.61" stroke="#000" stroke-width="1.4"/>
<line x1="772.5" y1="1066.95" x2="775.5" y2="1066.95" stroke="#000" stroke-width="1.4"/>
<line x1="772.5" y1="1064.78" x2="775.5" y2="1064.78" stroke="#000" stroke-width="1.4"/>
<line x1="772.5" y1="1062.95" x2="775.5" y2="1062.95" stroke="#000" stroke-width="1.4"/>
<line x1="772.5" y1="1061.36" x2="775.5" y2="1061.36" stroke="#000" stroke-width="1.4"/>
<line x1="772.5" y1="1059.96" x2="775.5" y2="1059.96" stroke="#000" stroke-width="1.4"/>
<line x1="769.5" y1="1058.7" x2="775.5" y2="1058.7" stroke="#000" stroke-width="2"/>
<line x1="776.4" y1="1196.3" x2="776.4" y2="1201.3" stroke="#000" stroke-width="2"/>
<line x1="833.3" y1="1196.3" x2="833.3" y2="1201.3" stroke="#000" stroke-width="2"/>
<line x1="890.2" y1="1196.3" x2="890.2" y2="1201.3" stroke="#000" stroke-width="2"/>
<line x1="947" y1="1196.3" x2="947" y2="1201.3" stroke="#000" stroke-width="2"/>
<line x1="793.53" y1="1196.3" x2="793.53" y2="1199.3" stroke="#000" stroke-width="1.4"/>
<line x1="803.54" y1="1196.3" x2="803.54" y2="1199.3" stroke="#000" stroke-width="1.4"/>
<line x1="810.65" y1="1196.3" x2="810.65" y2="1199.3" stroke="#000" stroke-width="1.4"/>
<line x1="816.17" y1="1196.3" x2="816.17" y2="1199.3" stroke="#000" stroke-width="1.4"/>
<line x1="820.67" y1="1196.3" x2="820.67" y2="1199.3" stroke="#000" stroke-width="1.4"/>
<line x1="824.48" y1="1196.3" x2="824.48" y2="1199.3" stroke="#000" stroke-width="1.4"/>
<line x1="827.78" y1="1196.3" x2="827.78" y2="1199.3" stroke="#000" stroke-width="1.4"/>
<line x1="830.68" y1="1196.3" x2="830.68" y2="1199.3" stroke="#000" stroke-width="1.4"/>
<line x1="850.43" y1="1196.3" x2="850.43" y2="1199.3" stroke="#000" stroke-width="1.4"/>
<line x1="860.44" y1="1196.3" x2="860.44" y2="1199.3" stroke="#000" stroke-width="1.4"/>
<line x1="867.55" y1="1196.3" x2="867.55" y2="1199.3" stroke="#000" stroke-width="1.4"/>
<line x1="873.07" y1="1196.3" x2="873.07" y2="1199.3" stroke="#000" stroke-width="1.4"/>
<line x1="877.57" y1="1196.3" x2="877.57" y2="1199.3" stroke="#000" stroke-width="1.4"/>
<line x1="881.38" y1="1196.3" x2="881.38" y2="1199.3" stroke="#000" stroke-width="1.4"/>
<line x1="884.68" y1="1196.3" x2="884.68" y2="1199.3" stroke="#000" stroke-width="1.4"/>
<line x1="887.58" y1="1196.3" x2="887.58" y2="1199.3" stroke="#000" stroke-width="1.4"/>
<line x1="907.33" y1="1196.3" x2="907.33" y2="1199.3" stroke="#000" stroke-width="1.4"/>
<line x1="917.34" y1="1196.3" x2="917.34" y2="1199.3" stroke="#000" stroke-width="1.4"/>
<line x1="924.45" y1="1196.3" x2="924.45" y2="1199.3" stroke="#000" stroke-width="1.4"/>
<line x1="929.97" y1="1196.3" x2="929.97" y2="1199.3" stroke="#000" stroke-width="1.4"/>
<line x1="934.47" y1="1196.3" x2="934.47" y2="1199.3" stroke="#000" stroke-width="1.4"/>
<line x1="938.28" y1="1196.3" x2="938.28" y2="1199.3" stroke="#000" stroke-width="1.4"/>
<line x1="941.58" y1="1196.3" x2="941.58" y2="1199.3" stroke="#000" stroke-width="1.4"/>
<line x1="944.48" y1="1196.3" x2="944.48" y2="1199.3" stroke="#000" stroke-width="1.4"/>
<line x1="964.13" y1="1196.3" x2="964.13" y2="1199.3" stroke="#000" stroke-width="1.4"/>
<rect x="775.5" y="1052" width="197.9" height="144.3" fill="none" stroke="#000" stroke-width="2.6"/>
<text id="d_gfpax" x="0" y="0" transform="translate(194.84 1239.42) scale(1.0248 1)" font-size="28.14">Thpok-GFP</text>
<line x1="358.1" y1="1231.1" x2="925" y2="1231.1" stroke="#000" stroke-width="2.5"/>
<path d="M921.4 1220.4 L956.3 1231.1 L921.4 1241.8 Z" fill="#000"/>
<text id="e_lbl" x="0" y="0" transform="translate(-0.32 1324.55)" font-size="43.26" font-weight="bold">e</text>
<text id="e_P1" x="0" y="0" transform="translate(341.06 1333.58)" font-size="30.4" font-style="italic">P1</text>
<path d="M351.4 1344.2 L365.4 1344.2 L358.4 1358.2 Z" fill="#000"/>
<rect x="146" y="1367.4" width="821.8" height="178.9" fill="none" stroke="#000" stroke-width="2.7"/>
<rect x="146" y="1552" width="821.8" height="178.7" fill="none" stroke="#000" stroke-width="2.7"/>
<rect x="146" y="1736.5" width="821.8" height="178.8" fill="none" stroke="#000" stroke-width="2.7"/>
<rect x="146" y="1920.7" width="821.8" height="179.1" fill="none" stroke="#000" stroke-width="2.7"/>
<line x1="967.8" y1="1367.4" x2="976" y2="1367.4" stroke="#000" stroke-width="2.7"/>
<line x1="146.1" y1="2099.8" x2="146.1" y2="2107.2" stroke="#000" stroke-width="2.7"/>
<line x1="283.1" y1="2099.8" x2="283.1" y2="2107.2" stroke="#000" stroke-width="2.7"/>
<line x1="420.1" y1="2099.8" x2="420.1" y2="2107.2" stroke="#000" stroke-width="2.7"/>
<line x1="557.1" y1="2099.8" x2="557.1" y2="2107.2" stroke="#000" stroke-width="2.7"/>
<line x1="694.1" y1="2099.8" x2="694.1" y2="2107.2" stroke="#000" stroke-width="2.7"/>
<line x1="831.1" y1="2099.8" x2="831.1" y2="2107.2" stroke="#000" stroke-width="2.7"/>
<line x1="968.1" y1="2099.8" x2="968.1" y2="2107.2" stroke="#000" stroke-width="2.7"/>
<text id="e_tk1366" x="0" y="0" transform="translate(128.85 1384.65) scale(0.9950 1)" font-size="29.72" text-anchor="end">5.0</text>
<text id="e_yl1" x="0" y="0" transform="translate(128.85 1536.35) scale(0.9950 1)" font-size="29.72" text-anchor="end">0.0</text>
<text id="e_yl2" x="0" y="0" transform="translate(128.85 1572.35) scale(0.9950 1)" font-size="29.72" text-anchor="end">5.0</text>
<text id="e_yl3" x="0" y="0" transform="translate(128.85 1721.95) scale(0.9950 1)" font-size="29.72" text-anchor="end">0.0</text>
<text id="e_yl4" x="0" y="0" transform="translate(128.85 1759.55) scale(0.9950 1)" font-size="29.72" text-anchor="end">7.5</text>
<text id="e_yl5" x="0" y="0" transform="translate(128.85 1911.15) scale(0.9950 1)" font-size="29.72" text-anchor="end">0.0</text>
<text id="e_yl6" x="0" y="0" transform="translate(128.85 1946.05) scale(0.9950 1)" font-size="29.72" text-anchor="end">7.5</text>
<text id="e_yl7" x="0" y="0" transform="translate(128.85 2111.25) scale(0.9950 1)" font-size="29.72" text-anchor="end">0.0</text>
<text id="e_yl8" x="0" y="0" transform="translate(128.85 2169.75) scale(0.9950 1)" font-size="29.72" text-anchor="end">5.0</text>
<text id="e_yl9" x="0" y="0" transform="translate(128.85 2344.25) scale(0.9950 1)" font-size="29.72" text-anchor="end">0.0</text>
<text id="e_rpkm" x="0" y="0" transform="translate(61.35 1723.5) rotate(-90) scale(0.9629 1)" font-size="30.51" text-anchor="middle">RPKM</text>
<text id="e_adult" x="0" y="0" transform="translate(948.74 1409.64) scale(1.0263 1)" font-size="28.34" text-anchor="end">Adult DP thy</text>
<text id="e_nb1" x="0" y="0" transform="translate(947.94 1598.05)" font-size="25.1" text-anchor="end">Newborn <tspan font-style="italic">Bcl11b</tspan><tspan dy="-12.55" font-size="17.32" font-style="italic">+/fl</tspan><tspan dy="12.55" font-style="italic">:Lck-Cre</tspan> DP thy</text>
<text id="e_nb2" x="0" y="0" transform="translate(947.85 1794.51)" font-size="25.02" text-anchor="end">Newborn <tspan font-style="italic">Bcl11b</tspan><tspan dy="-14.01" font-size="17.26" font-style="italic">HM/fl</tspan><tspan dy="14.01" font-style="italic">:Lck-Cre</tspan> DP thy</text>
<text id="e_nb3" x="0" y="0" transform="translate(947.92 1967.75)" font-size="24.96" text-anchor="end">Newborn <tspan font-style="italic">Bcl11b</tspan><tspan dy="-13.98" font-size="17.22" font-style="italic">HM/HM</tspan><tspan dy="13.98" font-style="italic">:Lck-Cre</tspan> DP thy</text>
<defs><clipPath id="ce"><rect x="147.8" y="1300" width="818.2" height="1100"/></clipPath></defs>
<g clip-path="url(#ce)">
<path d="M149.18 1545.4 L160.19 1543.57 L173.04 1531.08 L179.65 1531.82 L195.07 1541 L202.41 1542.47 L207.92 1541.73 L215.26 1538.06 L221.5 1531.08 L228.11 1532.19 L234.72 1539.16 L240.96 1541.73 L248.3 1538.79 L255.65 1531.82 L262.99 1522.64 L269.23 1506.85 L275.11 1485.19 L282.45 1485.56 L288.69 1506.85 L296.03 1529.62 L303.37 1537.69 L310.72 1538.43 L316.22 1537.69 L323.57 1534.76 L330.18 1525.21 L336.42 1511.63 L343.76 1509.06 L350 1521.54 L358.44 1537.33 L364.69 1541.36 L371.29 1538.06 L378.64 1536.22 L385.25 1529.62 L392.59 1518.6 L399.2 1513.46 L406.17 1520.8 L412.78 1535.49 L419.76 1539.16 L427.1 1534.39 L433.71 1529.62 L440.32 1528.15 L447.66 1531.82 L453.9 1534.39 L461.24 1529.62 L467.85 1509.79 L474.09 1476.75 L481.43 1460.23 L488.78 1488.5 L495.39 1520.8 L501.63 1530.72 L508.24 1524.48 L514.48 1520.8 L521.82 1529.62 L529.16 1534.39 L536.5 1531.45 L543.85 1529.98 L551.19 1529.25 L550 1529.14 L556.77 1531.02 L564.28 1525.38 L570.67 1518.62 L578.19 1522.38 L584.58 1531.02 L591.35 1536.66 L602.62 1535.53 L612.02 1536.66 L618.41 1535.53 L625.17 1540.42 L633.44 1544.18 L640.21 1541.17 L646.97 1536.66 L654.49 1535.53 L666.52 1534.03 L674.04 1534.4 L681.55 1532.9 L692.08 1531.02 L700.35 1522.38 L707.87 1515.99 L714.25 1508.47 L721.02 1492.31 L728.54 1491.55 L734.93 1514.86 L742.45 1531.02 L748.46 1528.01 L754.85 1517.87 L762.37 1504.71 L769.88 1497.19 L775.52 1501.7 L782.29 1521.62 L789.8 1537.41 L797.32 1538.54 L804.84 1532.9 L813.11 1531.02 L820.63 1532.9 L828.14 1531.02 L835.66 1532.9 L845.06 1538.54 L852.57 1538.54 L860.09 1534.03 L865.73 1532.15 L873.25 1536.66 L880.01 1537.41 L886.4 1529.14 L892.04 1524.63 L899.56 1532.9 L907.08 1539.67 L916.47 1537.79 L925.87 1537.41 L933.39 1534.78 L940.9 1531.02 L947.67 1534.78 L954.06 1540.42 L960.45 1541.17 L967.21 1537.79" fill="none" stroke="#5f9832" stroke-width="3" stroke-linejoin="round"/>
<path d="M154.69 1730.18 L169.37 1729.07 L184.06 1727.61 L195.07 1727.61 L207.92 1728.34 L217.1 1721.36 L223.71 1720.26 L231.05 1724.67 L237.29 1727.24 L243.9 1725.77 L250.14 1720.63 L257.48 1715.49 L264.09 1697.13 L271.43 1668.5 L277.68 1667.76 L285.02 1678.78 L291.26 1686.12 L297.87 1705.94 L305.21 1722.1 L312.55 1722.1 L319.16 1717.33 L326.5 1717.69 L333.85 1721.36 L340.09 1720.26 L346.33 1716.59 L353.67 1719.9 L360.28 1725.04 L366.89 1723.2 L373.13 1719.9 L380.47 1720.26 L387.82 1719.53 L395.16 1716.59 L401.4 1716.22 L408.74 1721.73 L415.35 1723.57 L421.96 1720.63 L428.2 1721.73 L435.54 1723.93 L442.89 1722.1 L449.13 1721 L455.74 1724.3 L463.08 1722.47 L469.32 1699.7 L475.93 1643.9 L483.27 1622.61 L489.51 1661.15 L496.85 1709.62 L504.2 1718.79 L510.81 1719.9 L518.15 1721 L527.33 1722.83 L536.5 1723.93 L543.85 1720.63 L551.19 1717.33 L550 1716.66 L561.28 1718.16 L574.43 1719.67 L583.83 1724.18 L593.22 1728.31 L606.38 1727.18 L617.66 1726.43 L627.05 1724.93 L636.45 1726.43 L645.85 1727.18 L653.36 1723.42 L660.88 1713.65 L668.4 1709.89 L675.16 1719.67 L682.31 1727.93 L692.83 1729.06 L700.35 1724.18 L707.87 1711.02 L715.38 1697.87 L723.65 1690.35 L730.42 1692.98 L737.93 1702.38 L747.33 1707.26 L756.73 1709.89 L764.25 1702.38 L771.01 1697.87 L777.4 1709.14 L784.92 1720.42 L794.31 1725.68 L802.58 1726.43 L811.23 1723.42 L818.75 1726.43 L827.39 1729.44 L841.3 1729.44 L850.7 1727.18 L860.09 1724.93 L869.49 1724.18 L875.13 1721.54 L881.52 1716.66 L888.28 1717.41 L895.05 1722.67 L903.32 1726.81 L912.71 1727.93 L920.23 1724.93 L927.75 1722.67 L935.27 1725.68 L942.78 1726.81 L950.3 1725.3 L957.82 1726.06 L966.46 1729.81" fill="none" stroke="#5f9832" stroke-width="3" stroke-linejoin="round"/>
<path d="M147.34 1913.57 L156.52 1912.47 L169.37 1913.57 L182.22 1912.47 L195.07 1913.57 L209.76 1914.67 L224.44 1913.93 L233.62 1911.73 L242.8 1910.63 L251.98 1909.16 L259.32 1911 L265.56 1909.53 L272.17 1902.55 L278.41 1898.15 L285.02 1901.08 L292.36 1905.49 L299.7 1906.96 L305.94 1908.06 L312.55 1907.69 L319.9 1902.55 L326.5 1897.05 L333.11 1888.6 L340.09 1869.51 L346.7 1821.78 L354.04 1788.01 L360.28 1832.8 L367.62 1894.48 L374.97 1905.49 L381.57 1903.65 L388.55 1891.54 L395.16 1852.99 L401.4 1813.71 L409.11 1818.85 L416.08 1858.5 L422.69 1874.28 L430.04 1862.9 L435.91 1854.09 L442.89 1865.11 L449.13 1888.6 L456.47 1905.49 L463.08 1905.49 L470.42 1898.88 L477.76 1895.58 L485.11 1896.31 L491.71 1904.39 L499.06 1911.36 L505.3 1912.83 L511.54 1911 L518.15 1908.43 L524.76 1909.9 L532.1 1909.9 L540.18 1904.02 L547.52 1901.45 L559.4 1901.4 L566.91 1899.14 L573.3 1894.25 L580.07 1897.26 L587.59 1903.65 L595.1 1908.91 L600.74 1910.42 L608.26 1906.66 L614.65 1905.16 L621.42 1909.67 L627.05 1913.05 L634.57 1910.42 L640.96 1908.54 L647.73 1911.17 L655.24 1913.05 L662.76 1910.42 L670.28 1907.79 L679.67 1906.66 L689.82 1903.65 L702.23 1903.28 L709.74 1884.11 L715.38 1873.96 L722.9 1872.83 L729.67 1882.23 L737.18 1892.38 L744.7 1901.02 L751.09 1899.89 L758.61 1889.74 L764.25 1873.96 L771.76 1867.19 L777.4 1884.86 L784.92 1904.78 L793.56 1911.54 L801.08 1912.3 L807.47 1908.54 L813.11 1909.29 L820.63 1913.05 L830.02 1912.3 L838.67 1908.54 L846.94 1904.4 L853.7 1905.16 L861.97 1909.29 L871.37 1912.67 L878.89 1913.42 L886.4 1906.66 L893.92 1905.16 L903.32 1908.16 L912.71 1908.54 L922.11 1907.41 L929.63 1908.16 L937.15 1911.92 L946.54 1913.42 L957.82 1913.42 L967.21 1914.93" fill="none" stroke="#e2633a" stroke-width="3" stroke-linejoin="round"/>
<path d="M147.34 2097.24 L162.03 2097.24 L176.71 2096.5 L191.4 2095.4 L204.25 2095.4 L217.1 2096.14 L228.11 2095.77 L237.29 2092.83 L250.14 2094.67 L258.22 2092.47 L264.83 2080.72 L271.43 2067.13 L278.04 2068.23 L285.02 2082.55 L293.09 2091.36 L300.44 2093.93 L305.94 2094.3 L312.55 2090.63 L319.9 2079.62 L326.5 2067.13 L333.48 2055.02 L340.09 2040.33 L346.7 2003.62 L353.67 1965.07 L360.28 2012.8 L367.62 2064.2 L374.97 2077.41 L381.57 2075.21 L387.82 2060.53 L394.79 2027.48 L401.4 2000.32 L409.11 2003.62 L416.08 2027.48 L421.96 2027.48 L429.3 2010.96 L435.54 2010.96 L442.89 2024.55 L449.49 2053.18 L456.84 2079.62 L463.08 2085.12 L470.42 2077.05 L477.03 2050.25 L484 2040.33 L490.61 2066.03 L497.96 2089.16 L505.3 2089.9 L511.54 2086.59 L518.15 2087.33 L525.49 2089.9 L532.83 2089.9 L540.18 2091 L546.78 2090.63 L553.03 2082.55 L550 2084.78 L557.52 2079.14 L565.03 2081.02 L572.55 2077.26 L580.82 2073.5 L586.84 2074.25 L594.35 2084.78 L601.87 2094.18 L608.26 2094.93 L615.78 2092.67 L623.29 2094.18 L631.94 2095.68 L640.21 2094.93 L647.73 2093.42 L655.24 2091.54 L662.01 2087.03 L669.53 2084.4 L677.04 2087.79 L685.31 2091.54 L694.71 2092.3 L703.35 2094.18 L710.87 2076.13 L717.26 2064.86 L724.78 2057.34 L731.17 2054.71 L737.93 2069.74 L744.32 2084.4 L751.84 2081.02 L758.61 2065.99 L765 2041.55 L771.76 2030.28 L778.53 2056.59 L785.67 2082.9 L793.56 2091.54 L801.08 2094.18 L808.6 2091.54 L817.62 2085.16 L825.51 2085.53 L832.65 2092.67 L839.42 2095.68 L846.94 2092.67 L854.45 2091.17 L861.22 2088.54 L868.74 2085.53 L875.13 2090.42 L882.64 2094.18 L892.04 2093.42 L899.56 2089.67 L906.32 2087.79 L912.71 2089.67 L920.23 2090.79 L927.75 2091.17 L935.27 2093.42 L943.91 2095.68 L951.43 2094.93 L958.95 2092.3 L966.46 2092.67" fill="none" stroke="#e2633a" stroke-width="3" stroke-linejoin="round"/>
<path d="M198.74 2330.91 L211.59 2329.07 L222.61 2326.14 L233.62 2325.4 L244.63 2324.67 L253.81 2320.63 L261.15 2314.39 L269.23 2307.78 L276.57 2312.55 L285.02 2321.73 L296.03 2323.57 L302.64 2318.79 L308.88 2307.05 L315.49 2290.53 L321.73 2278.78 L330.91 2272.9 L337.52 2262.99 L341.19 2250.87 L346.33 2234.72 L352.94 2224.44 L356.61 2242.8 L362.12 2272.17 L366.89 2303.37 L372.03 2319.9 L379.37 2319.16 L385.25 2308.88 L391.49 2294.2 L398.83 2275.84 L405.07 2275.11 L413.51 2283.92 L419.76 2278.78 L424.53 2264.83 L430.04 2243.53 L434.44 2228.11 L439.21 2242.8 L444.72 2266.66 L450.23 2296.03 L455.74 2312.55 L461.24 2301.54 L466.75 2261.15 L473.36 2217.1 L481.43 2204.25 L486.94 2229.95 L492.45 2272.17 L497.96 2297.87 L503.46 2308.88 L510.81 2314.39 L518.15 2321.73 L527.33 2325.4 L536.5 2326.5 L547.52 2329.07 L558.22 2328.17 L570.54 2320.77 L580.81 2322.83 L591.08 2324.06 L601.36 2320.77 L611.63 2319.95 L621.9 2322.83 L632.17 2328.99 L648.6 2330.63 L660.93 2328.99 L673.25 2325.7 L683.53 2328.17 L693.8 2328.99 L699.96 2316.66 L708.18 2292.01 L714.34 2276.4 L720.5 2274.76 L727.49 2285.85 L734.88 2304.34 L741.04 2306.39 L747.21 2298.18 L755.42 2281.74 L762.82 2274.76 L771.04 2281.74 L778.02 2304.34 L784.18 2320.77 L790.35 2329.81 L804.72 2330.63 L837.59 2330.63 L870.46 2330.22 L880.73 2326.94 L890.18 2322.83 L897.17 2321.59 L905.38 2324.88 L915.65 2328.99 L930.03 2330.63 L944.41 2328.99 L958.79 2328.99 L968.24 2328.99" fill="none" stroke="#bb1c44" stroke-width="3" stroke-linejoin="round" stroke-dasharray="5.3 4.3"/>
</g>
<path d="M272 1447.3 L287.8 1447.3 L279.9 1464.8 Z" fill="#4aa5d9"/>
<path d="M273 1631.8 L289.8 1631.8 L281.4 1650 Z" fill="#4aa5d9"/>
<path d="M346.3 1750.2 L363.2 1750.2 L354.75 1767.8 Z" fill="#c81e26"/>
<path d="M397 1780.7 L413.9 1780.7 L405.45 1798.3 Z" fill="#c81e26"/>
<path d="M431.1 1799 L447.7 1799 L439.4 1816.6 Z" fill="#c81e26"/>
<path d="M344.9 1935 L362.1 1935 L353.5 1953 Z" fill="#c81e26"/>
<path d="M395.9 1974.2 L412.4 1974.2 L404.15 1991.5 Z" fill="#c81e26"/>
<path d="M430 1992.6 L446.5 1992.6 L438.25 2009.9 Z" fill="#c81e26"/>
<path d="M343.2 2172.4 L360.7 2172.4 L351.95 2190.3 Z" fill="#c81e26"/>
<path d="M427.1 2181.1 L445.5 2181.1 L436.3 2199 Z" fill="#c81e26"/>
<rect x="146.8" y="2152.6" width="822.2" height="178.9" fill="none" stroke="#000" stroke-width="2.7"/>
<text id="e_imm" x="0" y="0" transform="translate(948.95 2191.83) scale(1.0342 1)" font-size="24.25" text-anchor="end">Immature B cells</text>
<text id="e_gsm" x="0" y="0" transform="translate(949.6 2220.79) scale(0.9991 1)" font-size="25.16" text-anchor="end">(GSM2123187)</text>
<text id="e_x1" x="0" y="0" transform="translate(138.82 2369.75) scale(0.9969 1)" font-size="29.31">89205000</text>
<text id="e_chr" x="0" y="0" transform="translate(138.97 2401.18) scale(1.0215 1)" font-size="28.7">chr3</text>
<text id="e_x2" x="0" y="0" transform="translate(878.23 2373.88) scale(0.9730 1)" font-size="29.93">89175000</text>
<line x1="364.2" y1="2393.9" x2="364.2" y2="2447" stroke="#000" stroke-width="2.5"/>
<line x1="363" y1="2395.1" x2="480" y2="2395.1" stroke="#000" stroke-width="2.5"/>
<path d="M466.9 2388.3 L485.9 2395.1 L466.9 2403.6 L475.2 2395.1 Z" fill="#000"/>
<text id="e_zb" x="0" y="0" transform="translate(502.37 2408.2) scale(1.0002 1)" font-size="29.32" font-style="italic">Zbtb7b</text>
<line x1="364" y1="2435.1" x2="790" y2="2435.1" stroke="#000" stroke-width="2.5"/>
<rect x="363.3" y="2424.8" width="7.4" height="22.2" fill="#000"/>
<rect x="683.3" y="2424.6" width="34.4" height="22.4" fill="#000"/>
<rect x="725.2" y="2424.6" width="67.2" height="22.4" fill="#000"/>
</svg>
</body></html>
